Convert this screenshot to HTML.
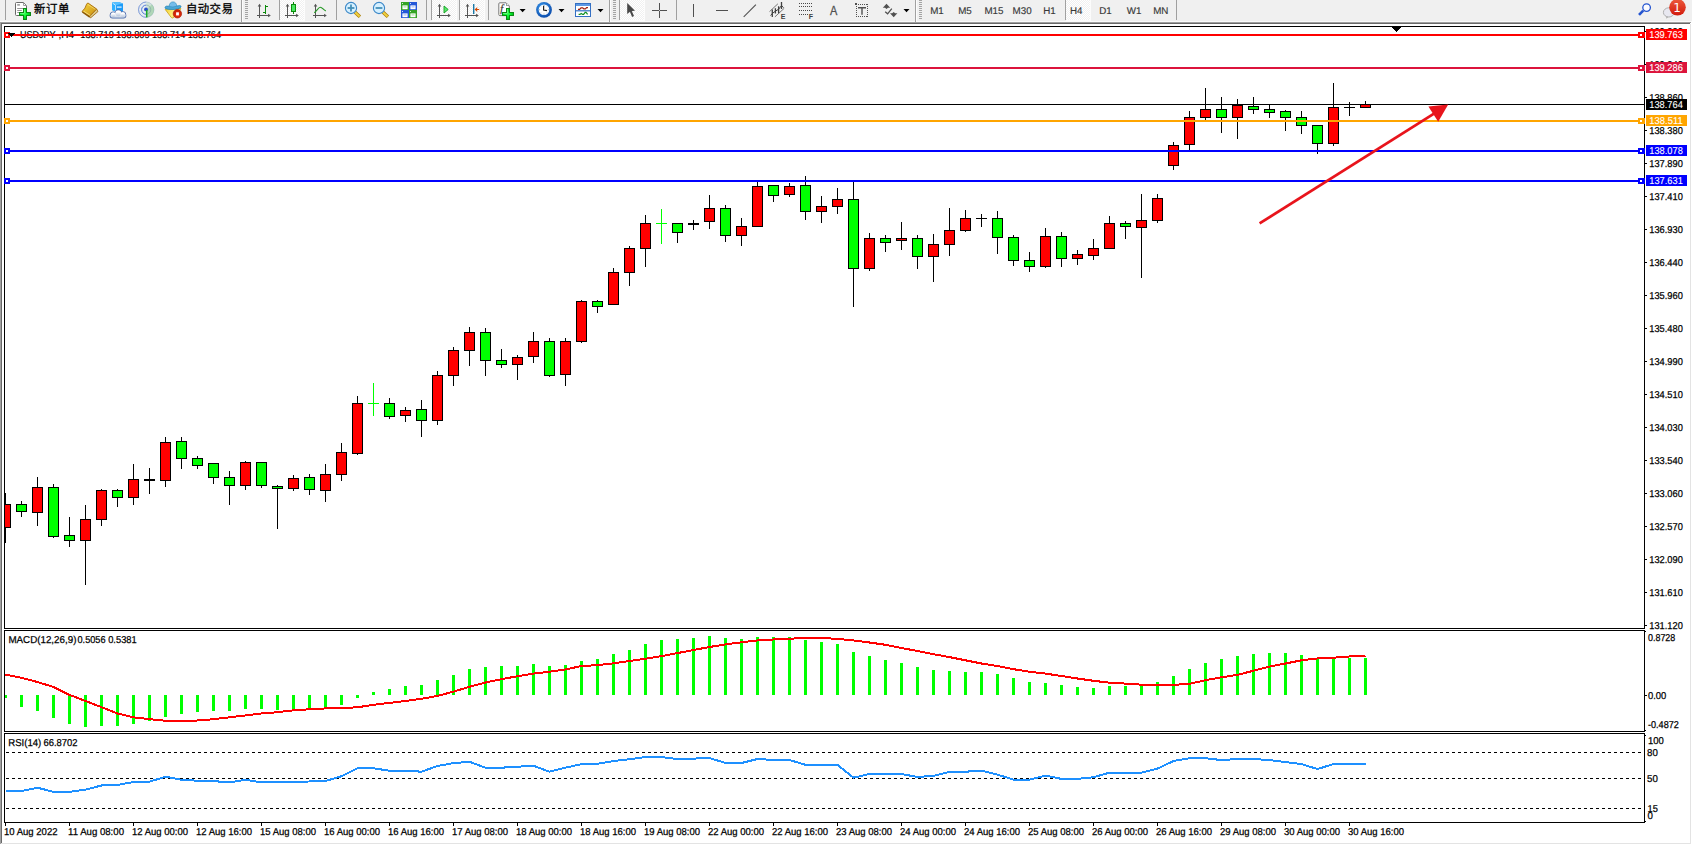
<!DOCTYPE html>
<html lang="zh"><head><meta charset="utf-8"><title>USDJPY,H4</title>
<style>html,body{margin:0;padding:0;background:#fff;overflow:hidden}body{width:1692px;height:845px;position:relative}text{white-space:pre}</style>
</head><body>
<svg width="1692" height="845" viewBox="0 0 1692 845" style="display:block;position:absolute;left:0;top:0">
<defs><pattern id="hatch" width="2" height="2" patternUnits="userSpaceOnUse"><rect width="2" height="2" fill="#f0f0f0"/><rect width="1" height="1" fill="#fff"/><rect x="1" y="1" width="1" height="1" fill="#fff"/></pattern><radialGradient id="gplus" cx="0.45" cy="0.45" r="0.6"><stop offset="0" stop-color="#3cff58"/><stop offset="0.5" stop-color="#08f030"/><stop offset="1" stop-color="#00b818"/></radialGradient><linearGradient id="gbadge" x1="0" y1="0" x2="0" y2="1"><stop offset="0" stop-color="#ec5a3c"/><stop offset="1" stop-color="#d21a0c"/></linearGradient><linearGradient id="ggold" x1="0" y1="0" x2="1" y2="1"><stop offset="0" stop-color="#f8d840"/><stop offset="1" stop-color="#c88c10"/></linearGradient><radialGradient id="gclock" cx="0.4" cy="0.35" r="0.7"><stop offset="0" stop-color="#3a9cf0"/><stop offset="1" stop-color="#0a48a8"/></radialGradient><linearGradient id="gcloud" x1="0" y1="0" x2="0" y2="1"><stop offset="0.3" stop-color="#ffffff"/><stop offset="1" stop-color="#b8c6dc"/></linearGradient><linearGradient id="gface" x1="0" y1="0" x2="1" y2="0.3"><stop offset="0" stop-color="#f4d030"/><stop offset="0.6" stop-color="#fff080"/><stop offset="1" stop-color="#f0c828"/></linearGradient><radialGradient id="gstop" cx="0.55" cy="0.6" r="0.6"><stop offset="0" stop-color="#f43008"/><stop offset="1" stop-color="#c02008"/></radialGradient></defs>
<g shape-rendering="crispEdges">
<rect x="0" y="0" width="1692" height="845" fill="#fff"/>
<rect x="0" y="24" width="1" height="820" fill="#a0a0a0"/>
<rect x="1" y="24" width="1" height="819" fill="#696969"/>
<rect x="1690" y="24" width="1" height="820" fill="#e3e3e3"/>
<rect x="1" y="843" width="1690" height="1" fill="#e3e3e3"/>
<rect x="4" y="26" width="1641" height="1" fill="#000"/>
<rect x="4" y="628" width="1641" height="1" fill="#000"/>
<rect x="4" y="26" width="1" height="603" fill="#000"/>
<rect x="1644" y="26" width="1" height="603" fill="#000"/>
<rect x="4" y="630" width="1641" height="1" fill="#000"/>
<rect x="4" y="731" width="1641" height="1" fill="#000"/>
<rect x="4" y="630" width="1" height="102" fill="#000"/>
<rect x="1644" y="630" width="1" height="102" fill="#000"/>
<rect x="4" y="733" width="1641" height="1" fill="#000"/>
<rect x="4" y="822" width="1641" height="1" fill="#000"/>
<rect x="4" y="733" width="1" height="90" fill="#000"/>
<rect x="1644" y="733" width="1" height="90" fill="#000"/>
</g>
<g font-family="Liberation Sans, sans-serif" font-size="10px" text-rendering="geometricPrecision" fill="#000" stroke="#000" stroke-width="0.2">
<text x="20" y="38.00" textLength="35.5" lengthAdjust="spacingAndGlyphs">USDJPY</text>
<text x="58.6" y="38.00" textLength="15.5" lengthAdjust="spacingAndGlyphs">,H4</text>
<text x="80.3" y="38.00" textLength="33.5" lengthAdjust="spacingAndGlyphs">138.719</text>
<text x="116.1" y="38.00" textLength="33.5" lengthAdjust="spacingAndGlyphs">138.809</text>
<text x="151.89999999999998" y="38.00" textLength="33.5" lengthAdjust="spacingAndGlyphs">138.714</text>
<text x="187.7" y="38.00" textLength="33.5" lengthAdjust="spacingAndGlyphs">138.764</text>
</g>
<g shape-rendering="crispEdges">
<rect x="5" y="493" width="1" height="50" fill="#000"/>
<rect x="0" y="504" width="11" height="24" fill="#000"/>
<rect x="1" y="505" width="9" height="22" fill="#ff0000"/>
<rect x="21" y="501" width="1" height="16" fill="#000"/>
<rect x="16" y="504" width="11" height="8" fill="#000"/>
<rect x="17" y="505" width="9" height="6" fill="#00ff00"/>
<rect x="37" y="477" width="1" height="49" fill="#000"/>
<rect x="32" y="487" width="11" height="26" fill="#000"/>
<rect x="33" y="488" width="9" height="24" fill="#ff0000"/>
<rect x="53" y="484" width="1" height="54" fill="#000"/>
<rect x="48" y="487" width="11" height="50" fill="#000"/>
<rect x="49" y="488" width="9" height="48" fill="#00ff00"/>
<rect x="69" y="517" width="1" height="30" fill="#000"/>
<rect x="64" y="535" width="11" height="6" fill="#000"/>
<rect x="65" y="536" width="9" height="4" fill="#00ff00"/>
<rect x="85" y="505" width="1" height="80" fill="#000"/>
<rect x="80" y="519" width="11" height="22" fill="#000"/>
<rect x="81" y="520" width="9" height="20" fill="#ff0000"/>
<rect x="101" y="489" width="1" height="37" fill="#000"/>
<rect x="96" y="490" width="11" height="30" fill="#000"/>
<rect x="97" y="491" width="9" height="28" fill="#ff0000"/>
<rect x="117" y="489" width="1" height="18" fill="#000"/>
<rect x="112" y="490" width="11" height="8" fill="#000"/>
<rect x="113" y="491" width="9" height="6" fill="#00ff00"/>
<rect x="133" y="464" width="1" height="41" fill="#000"/>
<rect x="128" y="479" width="11" height="19" fill="#000"/>
<rect x="129" y="480" width="9" height="17" fill="#ff0000"/>
<rect x="149" y="468" width="1" height="26" fill="#000"/>
<rect x="144" y="479" width="11" height="2" fill="#000"/>
<rect x="165" y="437" width="1" height="50" fill="#000"/>
<rect x="160" y="442" width="11" height="39" fill="#000"/>
<rect x="161" y="443" width="9" height="37" fill="#ff0000"/>
<rect x="181" y="437" width="1" height="32" fill="#000"/>
<rect x="176" y="441" width="11" height="18" fill="#000"/>
<rect x="177" y="442" width="9" height="16" fill="#00ff00"/>
<rect x="197" y="456" width="1" height="13" fill="#000"/>
<rect x="192" y="458" width="11" height="8" fill="#000"/>
<rect x="193" y="459" width="9" height="6" fill="#00ff00"/>
<rect x="213" y="463" width="1" height="21" fill="#000"/>
<rect x="208" y="463" width="11" height="15" fill="#000"/>
<rect x="209" y="464" width="9" height="13" fill="#00ff00"/>
<rect x="229" y="471" width="1" height="34" fill="#000"/>
<rect x="224" y="477" width="11" height="9" fill="#000"/>
<rect x="225" y="478" width="9" height="7" fill="#00ff00"/>
<rect x="245" y="461" width="1" height="29" fill="#000"/>
<rect x="240" y="462" width="11" height="24" fill="#000"/>
<rect x="241" y="463" width="9" height="22" fill="#ff0000"/>
<rect x="261" y="462" width="1" height="26" fill="#000"/>
<rect x="256" y="462" width="11" height="24" fill="#000"/>
<rect x="257" y="463" width="9" height="22" fill="#00ff00"/>
<rect x="277" y="485" width="1" height="44" fill="#000"/>
<rect x="272" y="486" width="11" height="3" fill="#000"/>
<rect x="273" y="487" width="9" height="1" fill="#00ff00"/>
<rect x="293" y="475" width="1" height="16" fill="#000"/>
<rect x="288" y="478" width="11" height="11" fill="#000"/>
<rect x="289" y="479" width="9" height="9" fill="#ff0000"/>
<rect x="309" y="474" width="1" height="21" fill="#000"/>
<rect x="304" y="477" width="11" height="13" fill="#000"/>
<rect x="305" y="478" width="9" height="11" fill="#00ff00"/>
<rect x="325" y="464" width="1" height="38" fill="#000"/>
<rect x="320" y="474" width="11" height="17" fill="#000"/>
<rect x="321" y="475" width="9" height="15" fill="#ff0000"/>
<rect x="341" y="443" width="1" height="38" fill="#000"/>
<rect x="336" y="452" width="11" height="23" fill="#000"/>
<rect x="337" y="453" width="9" height="21" fill="#ff0000"/>
<rect x="357" y="396" width="1" height="59" fill="#000"/>
<rect x="352" y="403" width="11" height="51" fill="#000"/>
<rect x="353" y="404" width="9" height="49" fill="#ff0000"/>
<rect x="373" y="383" width="1" height="33" fill="#00ff00"/>
<rect x="368" y="403" width="11" height="1" fill="#00ff00"/>
<rect x="389" y="398" width="1" height="21" fill="#000"/>
<rect x="384" y="403" width="11" height="14" fill="#000"/>
<rect x="385" y="404" width="9" height="12" fill="#00ff00"/>
<rect x="405" y="407" width="1" height="15" fill="#000"/>
<rect x="400" y="410" width="11" height="6" fill="#000"/>
<rect x="401" y="411" width="9" height="4" fill="#ff0000"/>
<rect x="421" y="400" width="1" height="37" fill="#000"/>
<rect x="416" y="409" width="11" height="12" fill="#000"/>
<rect x="417" y="410" width="9" height="10" fill="#00ff00"/>
<rect x="437" y="371" width="1" height="54" fill="#000"/>
<rect x="432" y="375" width="11" height="46" fill="#000"/>
<rect x="433" y="376" width="9" height="44" fill="#ff0000"/>
<rect x="453" y="347" width="1" height="39" fill="#000"/>
<rect x="448" y="350" width="11" height="26" fill="#000"/>
<rect x="449" y="351" width="9" height="24" fill="#ff0000"/>
<rect x="469" y="327" width="1" height="39" fill="#000"/>
<rect x="464" y="332" width="11" height="19" fill="#000"/>
<rect x="465" y="333" width="9" height="17" fill="#ff0000"/>
<rect x="485" y="328" width="1" height="48" fill="#000"/>
<rect x="480" y="332" width="11" height="29" fill="#000"/>
<rect x="481" y="333" width="9" height="27" fill="#00ff00"/>
<rect x="501" y="349" width="1" height="19" fill="#000"/>
<rect x="496" y="360" width="11" height="5" fill="#000"/>
<rect x="497" y="361" width="9" height="3" fill="#00ff00"/>
<rect x="517" y="355" width="1" height="25" fill="#000"/>
<rect x="512" y="357" width="11" height="8" fill="#000"/>
<rect x="513" y="358" width="9" height="6" fill="#ff0000"/>
<rect x="533" y="332" width="1" height="31" fill="#000"/>
<rect x="528" y="341" width="11" height="16" fill="#000"/>
<rect x="529" y="342" width="9" height="14" fill="#ff0000"/>
<rect x="549" y="338" width="1" height="39" fill="#000"/>
<rect x="544" y="341" width="11" height="35" fill="#000"/>
<rect x="545" y="342" width="9" height="33" fill="#00ff00"/>
<rect x="565" y="338" width="1" height="48" fill="#000"/>
<rect x="560" y="341" width="11" height="34" fill="#000"/>
<rect x="561" y="342" width="9" height="32" fill="#ff0000"/>
<rect x="581" y="300" width="1" height="43" fill="#000"/>
<rect x="576" y="301" width="11" height="41" fill="#000"/>
<rect x="577" y="302" width="9" height="39" fill="#ff0000"/>
<rect x="597" y="300" width="1" height="13" fill="#000"/>
<rect x="592" y="301" width="11" height="6" fill="#000"/>
<rect x="593" y="302" width="9" height="4" fill="#00ff00"/>
<rect x="613" y="268" width="1" height="37" fill="#000"/>
<rect x="608" y="272" width="11" height="33" fill="#000"/>
<rect x="609" y="273" width="9" height="31" fill="#ff0000"/>
<rect x="629" y="246" width="1" height="40" fill="#000"/>
<rect x="624" y="248" width="11" height="25" fill="#000"/>
<rect x="625" y="249" width="9" height="23" fill="#ff0000"/>
<rect x="645" y="215" width="1" height="52" fill="#000"/>
<rect x="640" y="223" width="11" height="26" fill="#000"/>
<rect x="641" y="224" width="9" height="24" fill="#ff0000"/>
<rect x="661" y="209" width="1" height="35" fill="#00ff00"/>
<rect x="656" y="223" width="11" height="1" fill="#00ff00"/>
<rect x="677" y="223" width="1" height="20" fill="#000"/>
<rect x="672" y="223" width="11" height="10" fill="#000"/>
<rect x="673" y="224" width="9" height="8" fill="#00ff00"/>
<rect x="693" y="220" width="1" height="10" fill="#000"/>
<rect x="688" y="223" width="11" height="2" fill="#000"/>
<rect x="709" y="195" width="1" height="34" fill="#000"/>
<rect x="704" y="208" width="11" height="14" fill="#000"/>
<rect x="705" y="209" width="9" height="12" fill="#ff0000"/>
<rect x="725" y="205" width="1" height="37" fill="#000"/>
<rect x="720" y="208" width="11" height="28" fill="#000"/>
<rect x="721" y="209" width="9" height="26" fill="#00ff00"/>
<rect x="741" y="218" width="1" height="28" fill="#000"/>
<rect x="736" y="226" width="11" height="10" fill="#000"/>
<rect x="737" y="227" width="9" height="8" fill="#ff0000"/>
<rect x="757" y="182" width="1" height="45" fill="#000"/>
<rect x="752" y="186" width="11" height="41" fill="#000"/>
<rect x="753" y="187" width="9" height="39" fill="#ff0000"/>
<rect x="773" y="185" width="1" height="17" fill="#000"/>
<rect x="768" y="185" width="11" height="11" fill="#000"/>
<rect x="769" y="186" width="9" height="9" fill="#00ff00"/>
<rect x="789" y="183" width="1" height="14" fill="#000"/>
<rect x="784" y="186" width="11" height="9" fill="#000"/>
<rect x="785" y="187" width="9" height="7" fill="#ff0000"/>
<rect x="805" y="176" width="1" height="44" fill="#000"/>
<rect x="800" y="185" width="11" height="27" fill="#000"/>
<rect x="801" y="186" width="9" height="25" fill="#00ff00"/>
<rect x="821" y="196" width="1" height="27" fill="#000"/>
<rect x="816" y="206" width="11" height="6" fill="#000"/>
<rect x="817" y="207" width="9" height="4" fill="#ff0000"/>
<rect x="837" y="188" width="1" height="26" fill="#000"/>
<rect x="832" y="199" width="11" height="8" fill="#000"/>
<rect x="833" y="200" width="9" height="6" fill="#ff0000"/>
<rect x="853" y="182" width="1" height="125" fill="#000"/>
<rect x="848" y="199" width="11" height="70" fill="#000"/>
<rect x="849" y="200" width="9" height="68" fill="#00ff00"/>
<rect x="869" y="233" width="1" height="38" fill="#000"/>
<rect x="864" y="238" width="11" height="31" fill="#000"/>
<rect x="865" y="239" width="9" height="29" fill="#ff0000"/>
<rect x="885" y="235" width="1" height="17" fill="#000"/>
<rect x="880" y="238" width="11" height="5" fill="#000"/>
<rect x="881" y="239" width="9" height="3" fill="#00ff00"/>
<rect x="901" y="222" width="1" height="28" fill="#000"/>
<rect x="896" y="238" width="11" height="3" fill="#000"/>
<rect x="897" y="239" width="9" height="1" fill="#ff0000"/>
<rect x="917" y="235" width="1" height="34" fill="#000"/>
<rect x="912" y="238" width="11" height="19" fill="#000"/>
<rect x="913" y="239" width="9" height="17" fill="#00ff00"/>
<rect x="933" y="234" width="1" height="48" fill="#000"/>
<rect x="928" y="244" width="11" height="13" fill="#000"/>
<rect x="929" y="245" width="9" height="11" fill="#ff0000"/>
<rect x="949" y="208" width="1" height="48" fill="#000"/>
<rect x="944" y="230" width="11" height="15" fill="#000"/>
<rect x="945" y="231" width="9" height="13" fill="#ff0000"/>
<rect x="965" y="210" width="1" height="22" fill="#000"/>
<rect x="960" y="218" width="11" height="13" fill="#000"/>
<rect x="961" y="219" width="9" height="11" fill="#ff0000"/>
<rect x="981" y="214" width="1" height="13" fill="#000"/>
<rect x="976" y="218" width="11" height="1" fill="#000"/>
<rect x="997" y="211" width="1" height="43" fill="#000"/>
<rect x="992" y="218" width="11" height="20" fill="#000"/>
<rect x="993" y="219" width="9" height="18" fill="#00ff00"/>
<rect x="1013" y="235" width="1" height="31" fill="#000"/>
<rect x="1008" y="237" width="11" height="24" fill="#000"/>
<rect x="1009" y="238" width="9" height="22" fill="#00ff00"/>
<rect x="1029" y="252" width="1" height="20" fill="#000"/>
<rect x="1024" y="260" width="11" height="7" fill="#000"/>
<rect x="1025" y="261" width="9" height="5" fill="#00ff00"/>
<rect x="1045" y="228" width="1" height="40" fill="#000"/>
<rect x="1040" y="236" width="11" height="31" fill="#000"/>
<rect x="1041" y="237" width="9" height="29" fill="#ff0000"/>
<rect x="1061" y="232" width="1" height="35" fill="#000"/>
<rect x="1056" y="236" width="11" height="23" fill="#000"/>
<rect x="1057" y="237" width="9" height="21" fill="#00ff00"/>
<rect x="1077" y="250" width="1" height="15" fill="#000"/>
<rect x="1072" y="254" width="11" height="5" fill="#000"/>
<rect x="1073" y="255" width="9" height="3" fill="#ff0000"/>
<rect x="1093" y="239" width="1" height="21" fill="#000"/>
<rect x="1088" y="248" width="11" height="8" fill="#000"/>
<rect x="1089" y="249" width="9" height="6" fill="#ff0000"/>
<rect x="1109" y="216" width="1" height="33" fill="#000"/>
<rect x="1104" y="223" width="11" height="26" fill="#000"/>
<rect x="1105" y="224" width="9" height="24" fill="#ff0000"/>
<rect x="1125" y="221" width="1" height="18" fill="#000"/>
<rect x="1120" y="223" width="11" height="4" fill="#000"/>
<rect x="1121" y="224" width="9" height="2" fill="#00ff00"/>
<rect x="1141" y="194" width="1" height="84" fill="#000"/>
<rect x="1136" y="220" width="11" height="8" fill="#000"/>
<rect x="1137" y="221" width="9" height="6" fill="#ff0000"/>
<rect x="1157" y="194" width="1" height="29" fill="#000"/>
<rect x="1152" y="198" width="11" height="23" fill="#000"/>
<rect x="1153" y="199" width="9" height="21" fill="#ff0000"/>
<rect x="1173" y="142" width="1" height="28" fill="#000"/>
<rect x="1168" y="145" width="11" height="21" fill="#000"/>
<rect x="1169" y="146" width="9" height="19" fill="#ff0000"/>
<rect x="1189" y="111" width="1" height="39" fill="#000"/>
<rect x="1184" y="117" width="11" height="28" fill="#000"/>
<rect x="1185" y="118" width="9" height="26" fill="#ff0000"/>
<rect x="1205" y="88" width="1" height="32" fill="#000"/>
<rect x="1200" y="109" width="11" height="9" fill="#000"/>
<rect x="1201" y="110" width="9" height="7" fill="#ff0000"/>
<rect x="1221" y="97" width="1" height="36" fill="#000"/>
<rect x="1216" y="109" width="11" height="9" fill="#000"/>
<rect x="1217" y="110" width="9" height="7" fill="#00ff00"/>
<rect x="1237" y="99" width="1" height="40" fill="#000"/>
<rect x="1232" y="105" width="11" height="13" fill="#000"/>
<rect x="1233" y="106" width="9" height="11" fill="#ff0000"/>
<rect x="1253" y="97" width="1" height="17" fill="#000"/>
<rect x="1248" y="106" width="11" height="4" fill="#000"/>
<rect x="1249" y="107" width="9" height="2" fill="#00ff00"/>
<rect x="1269" y="105" width="1" height="13" fill="#000"/>
<rect x="1264" y="109" width="11" height="4" fill="#000"/>
<rect x="1265" y="110" width="9" height="2" fill="#00ff00"/>
<rect x="1285" y="110" width="1" height="21" fill="#000"/>
<rect x="1280" y="111" width="11" height="7" fill="#000"/>
<rect x="1281" y="112" width="9" height="5" fill="#00ff00"/>
<rect x="1301" y="111" width="1" height="23" fill="#000"/>
<rect x="1296" y="117" width="11" height="9" fill="#000"/>
<rect x="1297" y="118" width="9" height="7" fill="#00ff00"/>
<rect x="1317" y="125" width="1" height="29" fill="#000"/>
<rect x="1312" y="125" width="11" height="19" fill="#000"/>
<rect x="1313" y="126" width="9" height="17" fill="#00ff00"/>
<rect x="1333" y="83" width="1" height="63" fill="#000"/>
<rect x="1328" y="107" width="11" height="37" fill="#000"/>
<rect x="1329" y="108" width="9" height="35" fill="#ff0000"/>
<rect x="1349" y="102" width="1" height="14" fill="#000"/>
<rect x="1344" y="107" width="11" height="1" fill="#000"/>
<rect x="1365" y="101" width="1" height="7" fill="#000"/>
<rect x="1360" y="104" width="11" height="4" fill="#000"/>
<rect x="1361" y="105" width="9" height="2" fill="#ff0000"/>
<rect x="2" y="27" width="2" height="601" fill="#fff"/>
<rect x="0" y="24" width="1" height="820" fill="#a0a0a0"/>
<rect x="1" y="24" width="1" height="819" fill="#696969"/>
<rect x="4" y="26" width="1" height="603" fill="#000"/>
<rect x="5" y="104" width="1640" height="1" fill="#000"/>
<rect x="5" y="34" width="1639" height="2" fill="#ff0000"/>
<rect x="4" y="32" width="6" height="6" fill="#ff0000"/>
<rect x="6" y="34" width="2" height="2" fill="#fff"/>
<rect x="1638" y="32" width="7" height="6" fill="#ff0000"/>
<rect x="1640" y="34" width="2" height="2" fill="#fff"/>
<rect x="5" y="67" width="1639" height="2" fill="#dc143c"/>
<rect x="4" y="65" width="6" height="6" fill="#dc143c"/>
<rect x="6" y="67" width="2" height="2" fill="#fff"/>
<rect x="1638" y="65" width="7" height="6" fill="#dc143c"/>
<rect x="1640" y="67" width="2" height="2" fill="#fff"/>
<rect x="5" y="120" width="1639" height="2" fill="#ffa500"/>
<rect x="4" y="118" width="6" height="6" fill="#ffa500"/>
<rect x="6" y="120" width="2" height="2" fill="#fff"/>
<rect x="1638" y="118" width="7" height="6" fill="#ffa500"/>
<rect x="1640" y="120" width="2" height="2" fill="#fff"/>
<rect x="5" y="150" width="1639" height="2" fill="#0000ff"/>
<rect x="4" y="148" width="6" height="6" fill="#0000ff"/>
<rect x="6" y="150" width="2" height="2" fill="#fff"/>
<rect x="1638" y="148" width="7" height="6" fill="#0000ff"/>
<rect x="1640" y="150" width="2" height="2" fill="#fff"/>
<rect x="5" y="180" width="1639" height="2" fill="#0000ff"/>
<rect x="4" y="178" width="6" height="6" fill="#0000ff"/>
<rect x="6" y="180" width="2" height="2" fill="#fff"/>
<rect x="1638" y="178" width="7" height="6" fill="#0000ff"/>
<rect x="1640" y="180" width="2" height="2" fill="#fff"/>
<rect x="8" y="33" width="7" height="1" fill="#000"/>
<rect x="9" y="34" width="5" height="1" fill="#000"/>
<rect x="10" y="35" width="3" height="1" fill="#000"/>
<rect x="11" y="36" width="1" height="1" fill="#000"/>
<rect x="1392" y="27" width="9" height="1" fill="#000"/>
<rect x="1393" y="28" width="7" height="1" fill="#000"/>
<rect x="1394" y="29" width="5" height="1" fill="#000"/>
<rect x="1395" y="30" width="3" height="1" fill="#000"/>
<rect x="1396" y="31" width="1" height="1" fill="#000"/>
</g>
<g fill="#e8141c" stroke="none"><line x1="1259.6" y1="223.4" x2="1434" y2="113.6" stroke="#e8141c" stroke-width="2.8"/><polygon points="1448.2,104.5 1428.4,106.6 1438.2,121.8"/></g>
<g shape-rendering="crispEdges">
<rect x="1645" y="31" width="2" height="1" fill="#000"/>
<rect x="1645" y="64" width="2" height="1" fill="#000"/>
<rect x="1645" y="97" width="2" height="1" fill="#000"/>
<rect x="1645" y="130" width="2" height="1" fill="#000"/>
<rect x="1645" y="163" width="2" height="1" fill="#000"/>
<rect x="1645" y="196" width="2" height="1" fill="#000"/>
<rect x="1645" y="229" width="2" height="1" fill="#000"/>
<rect x="1645" y="262" width="2" height="1" fill="#000"/>
<rect x="1645" y="295" width="2" height="1" fill="#000"/>
<rect x="1645" y="328" width="2" height="1" fill="#000"/>
<rect x="1645" y="361" width="2" height="1" fill="#000"/>
<rect x="1645" y="394" width="2" height="1" fill="#000"/>
<rect x="1645" y="427" width="2" height="1" fill="#000"/>
<rect x="1645" y="460" width="2" height="1" fill="#000"/>
<rect x="1645" y="493" width="2" height="1" fill="#000"/>
<rect x="1645" y="526" width="2" height="1" fill="#000"/>
<rect x="1645" y="559" width="2" height="1" fill="#000"/>
<rect x="1645" y="592" width="2" height="1" fill="#000"/>
<rect x="1645" y="625" width="2" height="1" fill="#000"/>
</g>
<g font-family="Liberation Sans, sans-serif" font-size="10px" text-rendering="geometricPrecision" fill="#000" stroke="#000" stroke-width="0.25">
<text x="1649.3" y="34.60" textLength="33.5" lengthAdjust="spacingAndGlyphs">139.830</text>
<text x="1649.3" y="67.60" textLength="33.5" lengthAdjust="spacingAndGlyphs">139.340</text>
<text x="1649.3" y="101.00" textLength="33.5" lengthAdjust="spacingAndGlyphs">138.860</text>
<text x="1649.3" y="134.00" textLength="33.5" lengthAdjust="spacingAndGlyphs">138.380</text>
<text x="1649.3" y="167.00" textLength="33.5" lengthAdjust="spacingAndGlyphs">137.890</text>
<text x="1649.3" y="200.00" textLength="33.5" lengthAdjust="spacingAndGlyphs">137.410</text>
<text x="1649.3" y="233.00" textLength="33.5" lengthAdjust="spacingAndGlyphs">136.930</text>
<text x="1649.3" y="266.00" textLength="33.5" lengthAdjust="spacingAndGlyphs">136.440</text>
<text x="1649.3" y="299.00" textLength="33.5" lengthAdjust="spacingAndGlyphs">135.960</text>
<text x="1649.3" y="332.00" textLength="33.5" lengthAdjust="spacingAndGlyphs">135.480</text>
<text x="1649.3" y="365.00" textLength="33.5" lengthAdjust="spacingAndGlyphs">134.990</text>
<text x="1649.3" y="398.00" textLength="33.5" lengthAdjust="spacingAndGlyphs">134.510</text>
<text x="1649.3" y="431.00" textLength="33.5" lengthAdjust="spacingAndGlyphs">134.030</text>
<text x="1649.3" y="464.00" textLength="33.5" lengthAdjust="spacingAndGlyphs">133.540</text>
<text x="1649.3" y="497.00" textLength="33.5" lengthAdjust="spacingAndGlyphs">133.060</text>
<text x="1649.3" y="530.00" textLength="33.5" lengthAdjust="spacingAndGlyphs">132.570</text>
<text x="1649.3" y="563.00" textLength="33.5" lengthAdjust="spacingAndGlyphs">132.090</text>
<text x="1649.3" y="596.00" textLength="33.5" lengthAdjust="spacingAndGlyphs">131.610</text>
<text x="1649.3" y="629.00" textLength="33.5" lengthAdjust="spacingAndGlyphs">131.120</text>
</g>
<g shape-rendering="crispEdges">
<rect x="1646" y="29" width="41" height="11" fill="#ff0000"/>
<rect x="1646" y="62" width="41" height="11" fill="#dc143c"/>
<rect x="1646" y="115" width="41" height="11" fill="#ffa500"/>
<rect x="1646" y="145" width="41" height="11" fill="#0000ff"/>
<rect x="1646" y="175" width="41" height="11" fill="#0000ff"/>
<rect x="1646" y="99" width="41" height="11" fill="#000"/>
</g>
<g font-family="Liberation Sans, sans-serif" font-size="10px" text-rendering="geometricPrecision" fill="#fff" stroke="#fff" stroke-width="0.1">
<text x="1649.3" y="38.00" textLength="33.5" lengthAdjust="spacingAndGlyphs" fill="#fff">139.763</text>
<text x="1649.3" y="71.00" textLength="33.5" lengthAdjust="spacingAndGlyphs" fill="#fff">139.286</text>
<text x="1649.3" y="124.00" textLength="33.5" lengthAdjust="spacingAndGlyphs" fill="#fff">138.511</text>
<text x="1649.3" y="154.00" textLength="33.5" lengthAdjust="spacingAndGlyphs" fill="#fff">138.078</text>
<text x="1649.3" y="184.00" textLength="33.5" lengthAdjust="spacingAndGlyphs" fill="#fff">137.631</text>
<text x="1649.3" y="108.00" textLength="33.5" lengthAdjust="spacingAndGlyphs" fill="#fff">138.764</text>
</g>
<g shape-rendering="crispEdges">
<rect x="4" y="695" width="3" height="3" fill="#00ff00"/>
<rect x="20" y="695" width="3" height="12" fill="#00ff00"/>
<rect x="36" y="695" width="3" height="16" fill="#00ff00"/>
<rect x="52" y="695" width="3" height="23" fill="#00ff00"/>
<rect x="68" y="695" width="3" height="29" fill="#00ff00"/>
<rect x="84" y="695" width="3" height="32" fill="#00ff00"/>
<rect x="100" y="695" width="3" height="31" fill="#00ff00"/>
<rect x="116" y="695" width="3" height="31" fill="#00ff00"/>
<rect x="132" y="695" width="3" height="29" fill="#00ff00"/>
<rect x="148" y="695" width="3" height="26" fill="#00ff00"/>
<rect x="164" y="695" width="3" height="22" fill="#00ff00"/>
<rect x="180" y="695" width="3" height="19" fill="#00ff00"/>
<rect x="196" y="695" width="3" height="17" fill="#00ff00"/>
<rect x="212" y="695" width="3" height="16" fill="#00ff00"/>
<rect x="228" y="695" width="3" height="16" fill="#00ff00"/>
<rect x="244" y="695" width="3" height="14" fill="#00ff00"/>
<rect x="260" y="695" width="3" height="14" fill="#00ff00"/>
<rect x="276" y="695" width="3" height="15" fill="#00ff00"/>
<rect x="292" y="695" width="3" height="14" fill="#00ff00"/>
<rect x="308" y="695" width="3" height="14" fill="#00ff00"/>
<rect x="324" y="695" width="3" height="13" fill="#00ff00"/>
<rect x="340" y="695" width="3" height="10" fill="#00ff00"/>
<rect x="356" y="695" width="3" height="3" fill="#00ff00"/>
<rect x="372" y="692" width="3" height="3" fill="#00ff00"/>
<rect x="388" y="689" width="3" height="6" fill="#00ff00"/>
<rect x="404" y="686" width="3" height="9" fill="#00ff00"/>
<rect x="420" y="685" width="3" height="10" fill="#00ff00"/>
<rect x="436" y="680" width="3" height="15" fill="#00ff00"/>
<rect x="452" y="675" width="3" height="20" fill="#00ff00"/>
<rect x="468" y="669" width="3" height="26" fill="#00ff00"/>
<rect x="484" y="667" width="3" height="28" fill="#00ff00"/>
<rect x="500" y="666" width="3" height="29" fill="#00ff00"/>
<rect x="516" y="666" width="3" height="29" fill="#00ff00"/>
<rect x="532" y="664" width="3" height="31" fill="#00ff00"/>
<rect x="548" y="666" width="3" height="29" fill="#00ff00"/>
<rect x="564" y="665" width="3" height="30" fill="#00ff00"/>
<rect x="580" y="661" width="3" height="34" fill="#00ff00"/>
<rect x="596" y="659" width="3" height="36" fill="#00ff00"/>
<rect x="612" y="654" width="3" height="41" fill="#00ff00"/>
<rect x="628" y="650" width="3" height="45" fill="#00ff00"/>
<rect x="644" y="644" width="3" height="51" fill="#00ff00"/>
<rect x="660" y="640" width="3" height="55" fill="#00ff00"/>
<rect x="676" y="639" width="3" height="56" fill="#00ff00"/>
<rect x="692" y="638" width="3" height="57" fill="#00ff00"/>
<rect x="708" y="636" width="3" height="59" fill="#00ff00"/>
<rect x="724" y="638" width="3" height="57" fill="#00ff00"/>
<rect x="740" y="639" width="3" height="56" fill="#00ff00"/>
<rect x="756" y="637" width="3" height="58" fill="#00ff00"/>
<rect x="772" y="637" width="3" height="58" fill="#00ff00"/>
<rect x="788" y="637" width="3" height="58" fill="#00ff00"/>
<rect x="804" y="640" width="3" height="55" fill="#00ff00"/>
<rect x="820" y="642" width="3" height="53" fill="#00ff00"/>
<rect x="836" y="644" width="3" height="51" fill="#00ff00"/>
<rect x="852" y="652" width="3" height="43" fill="#00ff00"/>
<rect x="868" y="656" width="3" height="39" fill="#00ff00"/>
<rect x="884" y="660" width="3" height="35" fill="#00ff00"/>
<rect x="900" y="663" width="3" height="32" fill="#00ff00"/>
<rect x="916" y="667" width="3" height="28" fill="#00ff00"/>
<rect x="932" y="670" width="3" height="25" fill="#00ff00"/>
<rect x="948" y="671" width="3" height="24" fill="#00ff00"/>
<rect x="964" y="672" width="3" height="23" fill="#00ff00"/>
<rect x="980" y="672" width="3" height="23" fill="#00ff00"/>
<rect x="996" y="674" width="3" height="21" fill="#00ff00"/>
<rect x="1012" y="678" width="3" height="17" fill="#00ff00"/>
<rect x="1028" y="682" width="3" height="13" fill="#00ff00"/>
<rect x="1044" y="683" width="3" height="12" fill="#00ff00"/>
<rect x="1060" y="685" width="3" height="10" fill="#00ff00"/>
<rect x="1076" y="687" width="3" height="8" fill="#00ff00"/>
<rect x="1092" y="688" width="3" height="7" fill="#00ff00"/>
<rect x="1108" y="686" width="3" height="9" fill="#00ff00"/>
<rect x="1124" y="686" width="3" height="9" fill="#00ff00"/>
<rect x="1140" y="684" width="3" height="11" fill="#00ff00"/>
<rect x="1156" y="682" width="3" height="13" fill="#00ff00"/>
<rect x="1172" y="676" width="3" height="19" fill="#00ff00"/>
<rect x="1188" y="669" width="3" height="26" fill="#00ff00"/>
<rect x="1204" y="663" width="3" height="32" fill="#00ff00"/>
<rect x="1220" y="659" width="3" height="36" fill="#00ff00"/>
<rect x="1236" y="656" width="3" height="39" fill="#00ff00"/>
<rect x="1252" y="654" width="3" height="41" fill="#00ff00"/>
<rect x="1268" y="653" width="3" height="42" fill="#00ff00"/>
<rect x="1284" y="653" width="3" height="42" fill="#00ff00"/>
<rect x="1300" y="655" width="3" height="40" fill="#00ff00"/>
<rect x="1316" y="658" width="3" height="37" fill="#00ff00"/>
<rect x="1332" y="658" width="3" height="37" fill="#00ff00"/>
<rect x="1348" y="658" width="3" height="37" fill="#00ff00"/>
<rect x="1364" y="658" width="3" height="37" fill="#00ff00"/>
<rect x="2" y="631" width="2" height="100" fill="#fff"/>
<rect x="4" y="630" width="1" height="102" fill="#000"/>
<rect x="1645" y="695" width="2" height="1" fill="#000"/>
<rect x="1645" y="631" width="1" height="1" fill="#000"/>
<rect x="1645" y="730" width="1" height="1" fill="#000"/>
<rect x="1645" y="735" width="1" height="1" fill="#000"/>
<rect x="1645" y="821" width="1" height="1" fill="#000"/>
<rect x="6" y="752" width="3" height="1" fill="#000"/>
<rect x="12" y="752" width="3" height="1" fill="#000"/>
<rect x="18" y="752" width="3" height="1" fill="#000"/>
<rect x="24" y="752" width="3" height="1" fill="#000"/>
<rect x="30" y="752" width="3" height="1" fill="#000"/>
<rect x="36" y="752" width="3" height="1" fill="#000"/>
<rect x="42" y="752" width="3" height="1" fill="#000"/>
<rect x="48" y="752" width="3" height="1" fill="#000"/>
<rect x="54" y="752" width="3" height="1" fill="#000"/>
<rect x="60" y="752" width="3" height="1" fill="#000"/>
<rect x="66" y="752" width="3" height="1" fill="#000"/>
<rect x="72" y="752" width="3" height="1" fill="#000"/>
<rect x="78" y="752" width="3" height="1" fill="#000"/>
<rect x="84" y="752" width="3" height="1" fill="#000"/>
<rect x="90" y="752" width="3" height="1" fill="#000"/>
<rect x="96" y="752" width="3" height="1" fill="#000"/>
<rect x="102" y="752" width="3" height="1" fill="#000"/>
<rect x="108" y="752" width="3" height="1" fill="#000"/>
<rect x="114" y="752" width="3" height="1" fill="#000"/>
<rect x="120" y="752" width="3" height="1" fill="#000"/>
<rect x="126" y="752" width="3" height="1" fill="#000"/>
<rect x="132" y="752" width="3" height="1" fill="#000"/>
<rect x="138" y="752" width="3" height="1" fill="#000"/>
<rect x="144" y="752" width="3" height="1" fill="#000"/>
<rect x="150" y="752" width="3" height="1" fill="#000"/>
<rect x="156" y="752" width="3" height="1" fill="#000"/>
<rect x="162" y="752" width="3" height="1" fill="#000"/>
<rect x="168" y="752" width="3" height="1" fill="#000"/>
<rect x="174" y="752" width="3" height="1" fill="#000"/>
<rect x="180" y="752" width="3" height="1" fill="#000"/>
<rect x="186" y="752" width="3" height="1" fill="#000"/>
<rect x="192" y="752" width="3" height="1" fill="#000"/>
<rect x="198" y="752" width="3" height="1" fill="#000"/>
<rect x="204" y="752" width="3" height="1" fill="#000"/>
<rect x="210" y="752" width="3" height="1" fill="#000"/>
<rect x="216" y="752" width="3" height="1" fill="#000"/>
<rect x="222" y="752" width="3" height="1" fill="#000"/>
<rect x="228" y="752" width="3" height="1" fill="#000"/>
<rect x="234" y="752" width="3" height="1" fill="#000"/>
<rect x="240" y="752" width="3" height="1" fill="#000"/>
<rect x="246" y="752" width="3" height="1" fill="#000"/>
<rect x="252" y="752" width="3" height="1" fill="#000"/>
<rect x="258" y="752" width="3" height="1" fill="#000"/>
<rect x="264" y="752" width="3" height="1" fill="#000"/>
<rect x="270" y="752" width="3" height="1" fill="#000"/>
<rect x="276" y="752" width="3" height="1" fill="#000"/>
<rect x="282" y="752" width="3" height="1" fill="#000"/>
<rect x="288" y="752" width="3" height="1" fill="#000"/>
<rect x="294" y="752" width="3" height="1" fill="#000"/>
<rect x="300" y="752" width="3" height="1" fill="#000"/>
<rect x="306" y="752" width="3" height="1" fill="#000"/>
<rect x="312" y="752" width="3" height="1" fill="#000"/>
<rect x="318" y="752" width="3" height="1" fill="#000"/>
<rect x="324" y="752" width="3" height="1" fill="#000"/>
<rect x="330" y="752" width="3" height="1" fill="#000"/>
<rect x="336" y="752" width="3" height="1" fill="#000"/>
<rect x="342" y="752" width="3" height="1" fill="#000"/>
<rect x="348" y="752" width="3" height="1" fill="#000"/>
<rect x="354" y="752" width="3" height="1" fill="#000"/>
<rect x="360" y="752" width="3" height="1" fill="#000"/>
<rect x="366" y="752" width="3" height="1" fill="#000"/>
<rect x="372" y="752" width="3" height="1" fill="#000"/>
<rect x="378" y="752" width="3" height="1" fill="#000"/>
<rect x="384" y="752" width="3" height="1" fill="#000"/>
<rect x="390" y="752" width="3" height="1" fill="#000"/>
<rect x="396" y="752" width="3" height="1" fill="#000"/>
<rect x="402" y="752" width="3" height="1" fill="#000"/>
<rect x="408" y="752" width="3" height="1" fill="#000"/>
<rect x="414" y="752" width="3" height="1" fill="#000"/>
<rect x="420" y="752" width="3" height="1" fill="#000"/>
<rect x="426" y="752" width="3" height="1" fill="#000"/>
<rect x="432" y="752" width="3" height="1" fill="#000"/>
<rect x="438" y="752" width="3" height="1" fill="#000"/>
<rect x="444" y="752" width="3" height="1" fill="#000"/>
<rect x="450" y="752" width="3" height="1" fill="#000"/>
<rect x="456" y="752" width="3" height="1" fill="#000"/>
<rect x="462" y="752" width="3" height="1" fill="#000"/>
<rect x="468" y="752" width="3" height="1" fill="#000"/>
<rect x="474" y="752" width="3" height="1" fill="#000"/>
<rect x="480" y="752" width="3" height="1" fill="#000"/>
<rect x="486" y="752" width="3" height="1" fill="#000"/>
<rect x="492" y="752" width="3" height="1" fill="#000"/>
<rect x="498" y="752" width="3" height="1" fill="#000"/>
<rect x="504" y="752" width="3" height="1" fill="#000"/>
<rect x="510" y="752" width="3" height="1" fill="#000"/>
<rect x="516" y="752" width="3" height="1" fill="#000"/>
<rect x="522" y="752" width="3" height="1" fill="#000"/>
<rect x="528" y="752" width="3" height="1" fill="#000"/>
<rect x="534" y="752" width="3" height="1" fill="#000"/>
<rect x="540" y="752" width="3" height="1" fill="#000"/>
<rect x="546" y="752" width="3" height="1" fill="#000"/>
<rect x="552" y="752" width="3" height="1" fill="#000"/>
<rect x="558" y="752" width="3" height="1" fill="#000"/>
<rect x="564" y="752" width="3" height="1" fill="#000"/>
<rect x="570" y="752" width="3" height="1" fill="#000"/>
<rect x="576" y="752" width="3" height="1" fill="#000"/>
<rect x="582" y="752" width="3" height="1" fill="#000"/>
<rect x="588" y="752" width="3" height="1" fill="#000"/>
<rect x="594" y="752" width="3" height="1" fill="#000"/>
<rect x="600" y="752" width="3" height="1" fill="#000"/>
<rect x="606" y="752" width="3" height="1" fill="#000"/>
<rect x="612" y="752" width="3" height="1" fill="#000"/>
<rect x="618" y="752" width="3" height="1" fill="#000"/>
<rect x="624" y="752" width="3" height="1" fill="#000"/>
<rect x="630" y="752" width="3" height="1" fill="#000"/>
<rect x="636" y="752" width="3" height="1" fill="#000"/>
<rect x="642" y="752" width="3" height="1" fill="#000"/>
<rect x="648" y="752" width="3" height="1" fill="#000"/>
<rect x="654" y="752" width="3" height="1" fill="#000"/>
<rect x="660" y="752" width="3" height="1" fill="#000"/>
<rect x="666" y="752" width="3" height="1" fill="#000"/>
<rect x="672" y="752" width="3" height="1" fill="#000"/>
<rect x="678" y="752" width="3" height="1" fill="#000"/>
<rect x="684" y="752" width="3" height="1" fill="#000"/>
<rect x="690" y="752" width="3" height="1" fill="#000"/>
<rect x="696" y="752" width="3" height="1" fill="#000"/>
<rect x="702" y="752" width="3" height="1" fill="#000"/>
<rect x="708" y="752" width="3" height="1" fill="#000"/>
<rect x="714" y="752" width="3" height="1" fill="#000"/>
<rect x="720" y="752" width="3" height="1" fill="#000"/>
<rect x="726" y="752" width="3" height="1" fill="#000"/>
<rect x="732" y="752" width="3" height="1" fill="#000"/>
<rect x="738" y="752" width="3" height="1" fill="#000"/>
<rect x="744" y="752" width="3" height="1" fill="#000"/>
<rect x="750" y="752" width="3" height="1" fill="#000"/>
<rect x="756" y="752" width="3" height="1" fill="#000"/>
<rect x="762" y="752" width="3" height="1" fill="#000"/>
<rect x="768" y="752" width="3" height="1" fill="#000"/>
<rect x="774" y="752" width="3" height="1" fill="#000"/>
<rect x="780" y="752" width="3" height="1" fill="#000"/>
<rect x="786" y="752" width="3" height="1" fill="#000"/>
<rect x="792" y="752" width="3" height="1" fill="#000"/>
<rect x="798" y="752" width="3" height="1" fill="#000"/>
<rect x="804" y="752" width="3" height="1" fill="#000"/>
<rect x="810" y="752" width="3" height="1" fill="#000"/>
<rect x="816" y="752" width="3" height="1" fill="#000"/>
<rect x="822" y="752" width="3" height="1" fill="#000"/>
<rect x="828" y="752" width="3" height="1" fill="#000"/>
<rect x="834" y="752" width="3" height="1" fill="#000"/>
<rect x="840" y="752" width="3" height="1" fill="#000"/>
<rect x="846" y="752" width="3" height="1" fill="#000"/>
<rect x="852" y="752" width="3" height="1" fill="#000"/>
<rect x="858" y="752" width="3" height="1" fill="#000"/>
<rect x="864" y="752" width="3" height="1" fill="#000"/>
<rect x="870" y="752" width="3" height="1" fill="#000"/>
<rect x="876" y="752" width="3" height="1" fill="#000"/>
<rect x="882" y="752" width="3" height="1" fill="#000"/>
<rect x="888" y="752" width="3" height="1" fill="#000"/>
<rect x="894" y="752" width="3" height="1" fill="#000"/>
<rect x="900" y="752" width="3" height="1" fill="#000"/>
<rect x="906" y="752" width="3" height="1" fill="#000"/>
<rect x="912" y="752" width="3" height="1" fill="#000"/>
<rect x="918" y="752" width="3" height="1" fill="#000"/>
<rect x="924" y="752" width="3" height="1" fill="#000"/>
<rect x="930" y="752" width="3" height="1" fill="#000"/>
<rect x="936" y="752" width="3" height="1" fill="#000"/>
<rect x="942" y="752" width="3" height="1" fill="#000"/>
<rect x="948" y="752" width="3" height="1" fill="#000"/>
<rect x="954" y="752" width="3" height="1" fill="#000"/>
<rect x="960" y="752" width="3" height="1" fill="#000"/>
<rect x="966" y="752" width="3" height="1" fill="#000"/>
<rect x="972" y="752" width="3" height="1" fill="#000"/>
<rect x="978" y="752" width="3" height="1" fill="#000"/>
<rect x="984" y="752" width="3" height="1" fill="#000"/>
<rect x="990" y="752" width="3" height="1" fill="#000"/>
<rect x="996" y="752" width="3" height="1" fill="#000"/>
<rect x="1002" y="752" width="3" height="1" fill="#000"/>
<rect x="1008" y="752" width="3" height="1" fill="#000"/>
<rect x="1014" y="752" width="3" height="1" fill="#000"/>
<rect x="1020" y="752" width="3" height="1" fill="#000"/>
<rect x="1026" y="752" width="3" height="1" fill="#000"/>
<rect x="1032" y="752" width="3" height="1" fill="#000"/>
<rect x="1038" y="752" width="3" height="1" fill="#000"/>
<rect x="1044" y="752" width="3" height="1" fill="#000"/>
<rect x="1050" y="752" width="3" height="1" fill="#000"/>
<rect x="1056" y="752" width="3" height="1" fill="#000"/>
<rect x="1062" y="752" width="3" height="1" fill="#000"/>
<rect x="1068" y="752" width="3" height="1" fill="#000"/>
<rect x="1074" y="752" width="3" height="1" fill="#000"/>
<rect x="1080" y="752" width="3" height="1" fill="#000"/>
<rect x="1086" y="752" width="3" height="1" fill="#000"/>
<rect x="1092" y="752" width="3" height="1" fill="#000"/>
<rect x="1098" y="752" width="3" height="1" fill="#000"/>
<rect x="1104" y="752" width="3" height="1" fill="#000"/>
<rect x="1110" y="752" width="3" height="1" fill="#000"/>
<rect x="1116" y="752" width="3" height="1" fill="#000"/>
<rect x="1122" y="752" width="3" height="1" fill="#000"/>
<rect x="1128" y="752" width="3" height="1" fill="#000"/>
<rect x="1134" y="752" width="3" height="1" fill="#000"/>
<rect x="1140" y="752" width="3" height="1" fill="#000"/>
<rect x="1146" y="752" width="3" height="1" fill="#000"/>
<rect x="1152" y="752" width="3" height="1" fill="#000"/>
<rect x="1158" y="752" width="3" height="1" fill="#000"/>
<rect x="1164" y="752" width="3" height="1" fill="#000"/>
<rect x="1170" y="752" width="3" height="1" fill="#000"/>
<rect x="1176" y="752" width="3" height="1" fill="#000"/>
<rect x="1182" y="752" width="3" height="1" fill="#000"/>
<rect x="1188" y="752" width="3" height="1" fill="#000"/>
<rect x="1194" y="752" width="3" height="1" fill="#000"/>
<rect x="1200" y="752" width="3" height="1" fill="#000"/>
<rect x="1206" y="752" width="3" height="1" fill="#000"/>
<rect x="1212" y="752" width="3" height="1" fill="#000"/>
<rect x="1218" y="752" width="3" height="1" fill="#000"/>
<rect x="1224" y="752" width="3" height="1" fill="#000"/>
<rect x="1230" y="752" width="3" height="1" fill="#000"/>
<rect x="1236" y="752" width="3" height="1" fill="#000"/>
<rect x="1242" y="752" width="3" height="1" fill="#000"/>
<rect x="1248" y="752" width="3" height="1" fill="#000"/>
<rect x="1254" y="752" width="3" height="1" fill="#000"/>
<rect x="1260" y="752" width="3" height="1" fill="#000"/>
<rect x="1266" y="752" width="3" height="1" fill="#000"/>
<rect x="1272" y="752" width="3" height="1" fill="#000"/>
<rect x="1278" y="752" width="3" height="1" fill="#000"/>
<rect x="1284" y="752" width="3" height="1" fill="#000"/>
<rect x="1290" y="752" width="3" height="1" fill="#000"/>
<rect x="1296" y="752" width="3" height="1" fill="#000"/>
<rect x="1302" y="752" width="3" height="1" fill="#000"/>
<rect x="1308" y="752" width="3" height="1" fill="#000"/>
<rect x="1314" y="752" width="3" height="1" fill="#000"/>
<rect x="1320" y="752" width="3" height="1" fill="#000"/>
<rect x="1326" y="752" width="3" height="1" fill="#000"/>
<rect x="1332" y="752" width="3" height="1" fill="#000"/>
<rect x="1338" y="752" width="3" height="1" fill="#000"/>
<rect x="1344" y="752" width="3" height="1" fill="#000"/>
<rect x="1350" y="752" width="3" height="1" fill="#000"/>
<rect x="1356" y="752" width="3" height="1" fill="#000"/>
<rect x="1362" y="752" width="3" height="1" fill="#000"/>
<rect x="1368" y="752" width="3" height="1" fill="#000"/>
<rect x="1374" y="752" width="3" height="1" fill="#000"/>
<rect x="1380" y="752" width="3" height="1" fill="#000"/>
<rect x="1386" y="752" width="3" height="1" fill="#000"/>
<rect x="1392" y="752" width="3" height="1" fill="#000"/>
<rect x="1398" y="752" width="3" height="1" fill="#000"/>
<rect x="1404" y="752" width="3" height="1" fill="#000"/>
<rect x="1410" y="752" width="3" height="1" fill="#000"/>
<rect x="1416" y="752" width="3" height="1" fill="#000"/>
<rect x="1422" y="752" width="3" height="1" fill="#000"/>
<rect x="1428" y="752" width="3" height="1" fill="#000"/>
<rect x="1434" y="752" width="3" height="1" fill="#000"/>
<rect x="1440" y="752" width="3" height="1" fill="#000"/>
<rect x="1446" y="752" width="3" height="1" fill="#000"/>
<rect x="1452" y="752" width="3" height="1" fill="#000"/>
<rect x="1458" y="752" width="3" height="1" fill="#000"/>
<rect x="1464" y="752" width="3" height="1" fill="#000"/>
<rect x="1470" y="752" width="3" height="1" fill="#000"/>
<rect x="1476" y="752" width="3" height="1" fill="#000"/>
<rect x="1482" y="752" width="3" height="1" fill="#000"/>
<rect x="1488" y="752" width="3" height="1" fill="#000"/>
<rect x="1494" y="752" width="3" height="1" fill="#000"/>
<rect x="1500" y="752" width="3" height="1" fill="#000"/>
<rect x="1506" y="752" width="3" height="1" fill="#000"/>
<rect x="1512" y="752" width="3" height="1" fill="#000"/>
<rect x="1518" y="752" width="3" height="1" fill="#000"/>
<rect x="1524" y="752" width="3" height="1" fill="#000"/>
<rect x="1530" y="752" width="3" height="1" fill="#000"/>
<rect x="1536" y="752" width="3" height="1" fill="#000"/>
<rect x="1542" y="752" width="3" height="1" fill="#000"/>
<rect x="1548" y="752" width="3" height="1" fill="#000"/>
<rect x="1554" y="752" width="3" height="1" fill="#000"/>
<rect x="1560" y="752" width="3" height="1" fill="#000"/>
<rect x="1566" y="752" width="3" height="1" fill="#000"/>
<rect x="1572" y="752" width="3" height="1" fill="#000"/>
<rect x="1578" y="752" width="3" height="1" fill="#000"/>
<rect x="1584" y="752" width="3" height="1" fill="#000"/>
<rect x="1590" y="752" width="3" height="1" fill="#000"/>
<rect x="1596" y="752" width="3" height="1" fill="#000"/>
<rect x="1602" y="752" width="3" height="1" fill="#000"/>
<rect x="1608" y="752" width="3" height="1" fill="#000"/>
<rect x="1614" y="752" width="3" height="1" fill="#000"/>
<rect x="1620" y="752" width="3" height="1" fill="#000"/>
<rect x="1626" y="752" width="3" height="1" fill="#000"/>
<rect x="1632" y="752" width="3" height="1" fill="#000"/>
<rect x="1638" y="752" width="3" height="1" fill="#000"/>
<rect x="6" y="778" width="3" height="1" fill="#000"/>
<rect x="12" y="778" width="3" height="1" fill="#000"/>
<rect x="18" y="778" width="3" height="1" fill="#000"/>
<rect x="24" y="778" width="3" height="1" fill="#000"/>
<rect x="30" y="778" width="3" height="1" fill="#000"/>
<rect x="36" y="778" width="3" height="1" fill="#000"/>
<rect x="42" y="778" width="3" height="1" fill="#000"/>
<rect x="48" y="778" width="3" height="1" fill="#000"/>
<rect x="54" y="778" width="3" height="1" fill="#000"/>
<rect x="60" y="778" width="3" height="1" fill="#000"/>
<rect x="66" y="778" width="3" height="1" fill="#000"/>
<rect x="72" y="778" width="3" height="1" fill="#000"/>
<rect x="78" y="778" width="3" height="1" fill="#000"/>
<rect x="84" y="778" width="3" height="1" fill="#000"/>
<rect x="90" y="778" width="3" height="1" fill="#000"/>
<rect x="96" y="778" width="3" height="1" fill="#000"/>
<rect x="102" y="778" width="3" height="1" fill="#000"/>
<rect x="108" y="778" width="3" height="1" fill="#000"/>
<rect x="114" y="778" width="3" height="1" fill="#000"/>
<rect x="120" y="778" width="3" height="1" fill="#000"/>
<rect x="126" y="778" width="3" height="1" fill="#000"/>
<rect x="132" y="778" width="3" height="1" fill="#000"/>
<rect x="138" y="778" width="3" height="1" fill="#000"/>
<rect x="144" y="778" width="3" height="1" fill="#000"/>
<rect x="150" y="778" width="3" height="1" fill="#000"/>
<rect x="156" y="778" width="3" height="1" fill="#000"/>
<rect x="162" y="778" width="3" height="1" fill="#000"/>
<rect x="168" y="778" width="3" height="1" fill="#000"/>
<rect x="174" y="778" width="3" height="1" fill="#000"/>
<rect x="180" y="778" width="3" height="1" fill="#000"/>
<rect x="186" y="778" width="3" height="1" fill="#000"/>
<rect x="192" y="778" width="3" height="1" fill="#000"/>
<rect x="198" y="778" width="3" height="1" fill="#000"/>
<rect x="204" y="778" width="3" height="1" fill="#000"/>
<rect x="210" y="778" width="3" height="1" fill="#000"/>
<rect x="216" y="778" width="3" height="1" fill="#000"/>
<rect x="222" y="778" width="3" height="1" fill="#000"/>
<rect x="228" y="778" width="3" height="1" fill="#000"/>
<rect x="234" y="778" width="3" height="1" fill="#000"/>
<rect x="240" y="778" width="3" height="1" fill="#000"/>
<rect x="246" y="778" width="3" height="1" fill="#000"/>
<rect x="252" y="778" width="3" height="1" fill="#000"/>
<rect x="258" y="778" width="3" height="1" fill="#000"/>
<rect x="264" y="778" width="3" height="1" fill="#000"/>
<rect x="270" y="778" width="3" height="1" fill="#000"/>
<rect x="276" y="778" width="3" height="1" fill="#000"/>
<rect x="282" y="778" width="3" height="1" fill="#000"/>
<rect x="288" y="778" width="3" height="1" fill="#000"/>
<rect x="294" y="778" width="3" height="1" fill="#000"/>
<rect x="300" y="778" width="3" height="1" fill="#000"/>
<rect x="306" y="778" width="3" height="1" fill="#000"/>
<rect x="312" y="778" width="3" height="1" fill="#000"/>
<rect x="318" y="778" width="3" height="1" fill="#000"/>
<rect x="324" y="778" width="3" height="1" fill="#000"/>
<rect x="330" y="778" width="3" height="1" fill="#000"/>
<rect x="336" y="778" width="3" height="1" fill="#000"/>
<rect x="342" y="778" width="3" height="1" fill="#000"/>
<rect x="348" y="778" width="3" height="1" fill="#000"/>
<rect x="354" y="778" width="3" height="1" fill="#000"/>
<rect x="360" y="778" width="3" height="1" fill="#000"/>
<rect x="366" y="778" width="3" height="1" fill="#000"/>
<rect x="372" y="778" width="3" height="1" fill="#000"/>
<rect x="378" y="778" width="3" height="1" fill="#000"/>
<rect x="384" y="778" width="3" height="1" fill="#000"/>
<rect x="390" y="778" width="3" height="1" fill="#000"/>
<rect x="396" y="778" width="3" height="1" fill="#000"/>
<rect x="402" y="778" width="3" height="1" fill="#000"/>
<rect x="408" y="778" width="3" height="1" fill="#000"/>
<rect x="414" y="778" width="3" height="1" fill="#000"/>
<rect x="420" y="778" width="3" height="1" fill="#000"/>
<rect x="426" y="778" width="3" height="1" fill="#000"/>
<rect x="432" y="778" width="3" height="1" fill="#000"/>
<rect x="438" y="778" width="3" height="1" fill="#000"/>
<rect x="444" y="778" width="3" height="1" fill="#000"/>
<rect x="450" y="778" width="3" height="1" fill="#000"/>
<rect x="456" y="778" width="3" height="1" fill="#000"/>
<rect x="462" y="778" width="3" height="1" fill="#000"/>
<rect x="468" y="778" width="3" height="1" fill="#000"/>
<rect x="474" y="778" width="3" height="1" fill="#000"/>
<rect x="480" y="778" width="3" height="1" fill="#000"/>
<rect x="486" y="778" width="3" height="1" fill="#000"/>
<rect x="492" y="778" width="3" height="1" fill="#000"/>
<rect x="498" y="778" width="3" height="1" fill="#000"/>
<rect x="504" y="778" width="3" height="1" fill="#000"/>
<rect x="510" y="778" width="3" height="1" fill="#000"/>
<rect x="516" y="778" width="3" height="1" fill="#000"/>
<rect x="522" y="778" width="3" height="1" fill="#000"/>
<rect x="528" y="778" width="3" height="1" fill="#000"/>
<rect x="534" y="778" width="3" height="1" fill="#000"/>
<rect x="540" y="778" width="3" height="1" fill="#000"/>
<rect x="546" y="778" width="3" height="1" fill="#000"/>
<rect x="552" y="778" width="3" height="1" fill="#000"/>
<rect x="558" y="778" width="3" height="1" fill="#000"/>
<rect x="564" y="778" width="3" height="1" fill="#000"/>
<rect x="570" y="778" width="3" height="1" fill="#000"/>
<rect x="576" y="778" width="3" height="1" fill="#000"/>
<rect x="582" y="778" width="3" height="1" fill="#000"/>
<rect x="588" y="778" width="3" height="1" fill="#000"/>
<rect x="594" y="778" width="3" height="1" fill="#000"/>
<rect x="600" y="778" width="3" height="1" fill="#000"/>
<rect x="606" y="778" width="3" height="1" fill="#000"/>
<rect x="612" y="778" width="3" height="1" fill="#000"/>
<rect x="618" y="778" width="3" height="1" fill="#000"/>
<rect x="624" y="778" width="3" height="1" fill="#000"/>
<rect x="630" y="778" width="3" height="1" fill="#000"/>
<rect x="636" y="778" width="3" height="1" fill="#000"/>
<rect x="642" y="778" width="3" height="1" fill="#000"/>
<rect x="648" y="778" width="3" height="1" fill="#000"/>
<rect x="654" y="778" width="3" height="1" fill="#000"/>
<rect x="660" y="778" width="3" height="1" fill="#000"/>
<rect x="666" y="778" width="3" height="1" fill="#000"/>
<rect x="672" y="778" width="3" height="1" fill="#000"/>
<rect x="678" y="778" width="3" height="1" fill="#000"/>
<rect x="684" y="778" width="3" height="1" fill="#000"/>
<rect x="690" y="778" width="3" height="1" fill="#000"/>
<rect x="696" y="778" width="3" height="1" fill="#000"/>
<rect x="702" y="778" width="3" height="1" fill="#000"/>
<rect x="708" y="778" width="3" height="1" fill="#000"/>
<rect x="714" y="778" width="3" height="1" fill="#000"/>
<rect x="720" y="778" width="3" height="1" fill="#000"/>
<rect x="726" y="778" width="3" height="1" fill="#000"/>
<rect x="732" y="778" width="3" height="1" fill="#000"/>
<rect x="738" y="778" width="3" height="1" fill="#000"/>
<rect x="744" y="778" width="3" height="1" fill="#000"/>
<rect x="750" y="778" width="3" height="1" fill="#000"/>
<rect x="756" y="778" width="3" height="1" fill="#000"/>
<rect x="762" y="778" width="3" height="1" fill="#000"/>
<rect x="768" y="778" width="3" height="1" fill="#000"/>
<rect x="774" y="778" width="3" height="1" fill="#000"/>
<rect x="780" y="778" width="3" height="1" fill="#000"/>
<rect x="786" y="778" width="3" height="1" fill="#000"/>
<rect x="792" y="778" width="3" height="1" fill="#000"/>
<rect x="798" y="778" width="3" height="1" fill="#000"/>
<rect x="804" y="778" width="3" height="1" fill="#000"/>
<rect x="810" y="778" width="3" height="1" fill="#000"/>
<rect x="816" y="778" width="3" height="1" fill="#000"/>
<rect x="822" y="778" width="3" height="1" fill="#000"/>
<rect x="828" y="778" width="3" height="1" fill="#000"/>
<rect x="834" y="778" width="3" height="1" fill="#000"/>
<rect x="840" y="778" width="3" height="1" fill="#000"/>
<rect x="846" y="778" width="3" height="1" fill="#000"/>
<rect x="852" y="778" width="3" height="1" fill="#000"/>
<rect x="858" y="778" width="3" height="1" fill="#000"/>
<rect x="864" y="778" width="3" height="1" fill="#000"/>
<rect x="870" y="778" width="3" height="1" fill="#000"/>
<rect x="876" y="778" width="3" height="1" fill="#000"/>
<rect x="882" y="778" width="3" height="1" fill="#000"/>
<rect x="888" y="778" width="3" height="1" fill="#000"/>
<rect x="894" y="778" width="3" height="1" fill="#000"/>
<rect x="900" y="778" width="3" height="1" fill="#000"/>
<rect x="906" y="778" width="3" height="1" fill="#000"/>
<rect x="912" y="778" width="3" height="1" fill="#000"/>
<rect x="918" y="778" width="3" height="1" fill="#000"/>
<rect x="924" y="778" width="3" height="1" fill="#000"/>
<rect x="930" y="778" width="3" height="1" fill="#000"/>
<rect x="936" y="778" width="3" height="1" fill="#000"/>
<rect x="942" y="778" width="3" height="1" fill="#000"/>
<rect x="948" y="778" width="3" height="1" fill="#000"/>
<rect x="954" y="778" width="3" height="1" fill="#000"/>
<rect x="960" y="778" width="3" height="1" fill="#000"/>
<rect x="966" y="778" width="3" height="1" fill="#000"/>
<rect x="972" y="778" width="3" height="1" fill="#000"/>
<rect x="978" y="778" width="3" height="1" fill="#000"/>
<rect x="984" y="778" width="3" height="1" fill="#000"/>
<rect x="990" y="778" width="3" height="1" fill="#000"/>
<rect x="996" y="778" width="3" height="1" fill="#000"/>
<rect x="1002" y="778" width="3" height="1" fill="#000"/>
<rect x="1008" y="778" width="3" height="1" fill="#000"/>
<rect x="1014" y="778" width="3" height="1" fill="#000"/>
<rect x="1020" y="778" width="3" height="1" fill="#000"/>
<rect x="1026" y="778" width="3" height="1" fill="#000"/>
<rect x="1032" y="778" width="3" height="1" fill="#000"/>
<rect x="1038" y="778" width="3" height="1" fill="#000"/>
<rect x="1044" y="778" width="3" height="1" fill="#000"/>
<rect x="1050" y="778" width="3" height="1" fill="#000"/>
<rect x="1056" y="778" width="3" height="1" fill="#000"/>
<rect x="1062" y="778" width="3" height="1" fill="#000"/>
<rect x="1068" y="778" width="3" height="1" fill="#000"/>
<rect x="1074" y="778" width="3" height="1" fill="#000"/>
<rect x="1080" y="778" width="3" height="1" fill="#000"/>
<rect x="1086" y="778" width="3" height="1" fill="#000"/>
<rect x="1092" y="778" width="3" height="1" fill="#000"/>
<rect x="1098" y="778" width="3" height="1" fill="#000"/>
<rect x="1104" y="778" width="3" height="1" fill="#000"/>
<rect x="1110" y="778" width="3" height="1" fill="#000"/>
<rect x="1116" y="778" width="3" height="1" fill="#000"/>
<rect x="1122" y="778" width="3" height="1" fill="#000"/>
<rect x="1128" y="778" width="3" height="1" fill="#000"/>
<rect x="1134" y="778" width="3" height="1" fill="#000"/>
<rect x="1140" y="778" width="3" height="1" fill="#000"/>
<rect x="1146" y="778" width="3" height="1" fill="#000"/>
<rect x="1152" y="778" width="3" height="1" fill="#000"/>
<rect x="1158" y="778" width="3" height="1" fill="#000"/>
<rect x="1164" y="778" width="3" height="1" fill="#000"/>
<rect x="1170" y="778" width="3" height="1" fill="#000"/>
<rect x="1176" y="778" width="3" height="1" fill="#000"/>
<rect x="1182" y="778" width="3" height="1" fill="#000"/>
<rect x="1188" y="778" width="3" height="1" fill="#000"/>
<rect x="1194" y="778" width="3" height="1" fill="#000"/>
<rect x="1200" y="778" width="3" height="1" fill="#000"/>
<rect x="1206" y="778" width="3" height="1" fill="#000"/>
<rect x="1212" y="778" width="3" height="1" fill="#000"/>
<rect x="1218" y="778" width="3" height="1" fill="#000"/>
<rect x="1224" y="778" width="3" height="1" fill="#000"/>
<rect x="1230" y="778" width="3" height="1" fill="#000"/>
<rect x="1236" y="778" width="3" height="1" fill="#000"/>
<rect x="1242" y="778" width="3" height="1" fill="#000"/>
<rect x="1248" y="778" width="3" height="1" fill="#000"/>
<rect x="1254" y="778" width="3" height="1" fill="#000"/>
<rect x="1260" y="778" width="3" height="1" fill="#000"/>
<rect x="1266" y="778" width="3" height="1" fill="#000"/>
<rect x="1272" y="778" width="3" height="1" fill="#000"/>
<rect x="1278" y="778" width="3" height="1" fill="#000"/>
<rect x="1284" y="778" width="3" height="1" fill="#000"/>
<rect x="1290" y="778" width="3" height="1" fill="#000"/>
<rect x="1296" y="778" width="3" height="1" fill="#000"/>
<rect x="1302" y="778" width="3" height="1" fill="#000"/>
<rect x="1308" y="778" width="3" height="1" fill="#000"/>
<rect x="1314" y="778" width="3" height="1" fill="#000"/>
<rect x="1320" y="778" width="3" height="1" fill="#000"/>
<rect x="1326" y="778" width="3" height="1" fill="#000"/>
<rect x="1332" y="778" width="3" height="1" fill="#000"/>
<rect x="1338" y="778" width="3" height="1" fill="#000"/>
<rect x="1344" y="778" width="3" height="1" fill="#000"/>
<rect x="1350" y="778" width="3" height="1" fill="#000"/>
<rect x="1356" y="778" width="3" height="1" fill="#000"/>
<rect x="1362" y="778" width="3" height="1" fill="#000"/>
<rect x="1368" y="778" width="3" height="1" fill="#000"/>
<rect x="1374" y="778" width="3" height="1" fill="#000"/>
<rect x="1380" y="778" width="3" height="1" fill="#000"/>
<rect x="1386" y="778" width="3" height="1" fill="#000"/>
<rect x="1392" y="778" width="3" height="1" fill="#000"/>
<rect x="1398" y="778" width="3" height="1" fill="#000"/>
<rect x="1404" y="778" width="3" height="1" fill="#000"/>
<rect x="1410" y="778" width="3" height="1" fill="#000"/>
<rect x="1416" y="778" width="3" height="1" fill="#000"/>
<rect x="1422" y="778" width="3" height="1" fill="#000"/>
<rect x="1428" y="778" width="3" height="1" fill="#000"/>
<rect x="1434" y="778" width="3" height="1" fill="#000"/>
<rect x="1440" y="778" width="3" height="1" fill="#000"/>
<rect x="1446" y="778" width="3" height="1" fill="#000"/>
<rect x="1452" y="778" width="3" height="1" fill="#000"/>
<rect x="1458" y="778" width="3" height="1" fill="#000"/>
<rect x="1464" y="778" width="3" height="1" fill="#000"/>
<rect x="1470" y="778" width="3" height="1" fill="#000"/>
<rect x="1476" y="778" width="3" height="1" fill="#000"/>
<rect x="1482" y="778" width="3" height="1" fill="#000"/>
<rect x="1488" y="778" width="3" height="1" fill="#000"/>
<rect x="1494" y="778" width="3" height="1" fill="#000"/>
<rect x="1500" y="778" width="3" height="1" fill="#000"/>
<rect x="1506" y="778" width="3" height="1" fill="#000"/>
<rect x="1512" y="778" width="3" height="1" fill="#000"/>
<rect x="1518" y="778" width="3" height="1" fill="#000"/>
<rect x="1524" y="778" width="3" height="1" fill="#000"/>
<rect x="1530" y="778" width="3" height="1" fill="#000"/>
<rect x="1536" y="778" width="3" height="1" fill="#000"/>
<rect x="1542" y="778" width="3" height="1" fill="#000"/>
<rect x="1548" y="778" width="3" height="1" fill="#000"/>
<rect x="1554" y="778" width="3" height="1" fill="#000"/>
<rect x="1560" y="778" width="3" height="1" fill="#000"/>
<rect x="1566" y="778" width="3" height="1" fill="#000"/>
<rect x="1572" y="778" width="3" height="1" fill="#000"/>
<rect x="1578" y="778" width="3" height="1" fill="#000"/>
<rect x="1584" y="778" width="3" height="1" fill="#000"/>
<rect x="1590" y="778" width="3" height="1" fill="#000"/>
<rect x="1596" y="778" width="3" height="1" fill="#000"/>
<rect x="1602" y="778" width="3" height="1" fill="#000"/>
<rect x="1608" y="778" width="3" height="1" fill="#000"/>
<rect x="1614" y="778" width="3" height="1" fill="#000"/>
<rect x="1620" y="778" width="3" height="1" fill="#000"/>
<rect x="1626" y="778" width="3" height="1" fill="#000"/>
<rect x="1632" y="778" width="3" height="1" fill="#000"/>
<rect x="1638" y="778" width="3" height="1" fill="#000"/>
<rect x="6" y="808" width="3" height="1" fill="#000"/>
<rect x="12" y="808" width="3" height="1" fill="#000"/>
<rect x="18" y="808" width="3" height="1" fill="#000"/>
<rect x="24" y="808" width="3" height="1" fill="#000"/>
<rect x="30" y="808" width="3" height="1" fill="#000"/>
<rect x="36" y="808" width="3" height="1" fill="#000"/>
<rect x="42" y="808" width="3" height="1" fill="#000"/>
<rect x="48" y="808" width="3" height="1" fill="#000"/>
<rect x="54" y="808" width="3" height="1" fill="#000"/>
<rect x="60" y="808" width="3" height="1" fill="#000"/>
<rect x="66" y="808" width="3" height="1" fill="#000"/>
<rect x="72" y="808" width="3" height="1" fill="#000"/>
<rect x="78" y="808" width="3" height="1" fill="#000"/>
<rect x="84" y="808" width="3" height="1" fill="#000"/>
<rect x="90" y="808" width="3" height="1" fill="#000"/>
<rect x="96" y="808" width="3" height="1" fill="#000"/>
<rect x="102" y="808" width="3" height="1" fill="#000"/>
<rect x="108" y="808" width="3" height="1" fill="#000"/>
<rect x="114" y="808" width="3" height="1" fill="#000"/>
<rect x="120" y="808" width="3" height="1" fill="#000"/>
<rect x="126" y="808" width="3" height="1" fill="#000"/>
<rect x="132" y="808" width="3" height="1" fill="#000"/>
<rect x="138" y="808" width="3" height="1" fill="#000"/>
<rect x="144" y="808" width="3" height="1" fill="#000"/>
<rect x="150" y="808" width="3" height="1" fill="#000"/>
<rect x="156" y="808" width="3" height="1" fill="#000"/>
<rect x="162" y="808" width="3" height="1" fill="#000"/>
<rect x="168" y="808" width="3" height="1" fill="#000"/>
<rect x="174" y="808" width="3" height="1" fill="#000"/>
<rect x="180" y="808" width="3" height="1" fill="#000"/>
<rect x="186" y="808" width="3" height="1" fill="#000"/>
<rect x="192" y="808" width="3" height="1" fill="#000"/>
<rect x="198" y="808" width="3" height="1" fill="#000"/>
<rect x="204" y="808" width="3" height="1" fill="#000"/>
<rect x="210" y="808" width="3" height="1" fill="#000"/>
<rect x="216" y="808" width="3" height="1" fill="#000"/>
<rect x="222" y="808" width="3" height="1" fill="#000"/>
<rect x="228" y="808" width="3" height="1" fill="#000"/>
<rect x="234" y="808" width="3" height="1" fill="#000"/>
<rect x="240" y="808" width="3" height="1" fill="#000"/>
<rect x="246" y="808" width="3" height="1" fill="#000"/>
<rect x="252" y="808" width="3" height="1" fill="#000"/>
<rect x="258" y="808" width="3" height="1" fill="#000"/>
<rect x="264" y="808" width="3" height="1" fill="#000"/>
<rect x="270" y="808" width="3" height="1" fill="#000"/>
<rect x="276" y="808" width="3" height="1" fill="#000"/>
<rect x="282" y="808" width="3" height="1" fill="#000"/>
<rect x="288" y="808" width="3" height="1" fill="#000"/>
<rect x="294" y="808" width="3" height="1" fill="#000"/>
<rect x="300" y="808" width="3" height="1" fill="#000"/>
<rect x="306" y="808" width="3" height="1" fill="#000"/>
<rect x="312" y="808" width="3" height="1" fill="#000"/>
<rect x="318" y="808" width="3" height="1" fill="#000"/>
<rect x="324" y="808" width="3" height="1" fill="#000"/>
<rect x="330" y="808" width="3" height="1" fill="#000"/>
<rect x="336" y="808" width="3" height="1" fill="#000"/>
<rect x="342" y="808" width="3" height="1" fill="#000"/>
<rect x="348" y="808" width="3" height="1" fill="#000"/>
<rect x="354" y="808" width="3" height="1" fill="#000"/>
<rect x="360" y="808" width="3" height="1" fill="#000"/>
<rect x="366" y="808" width="3" height="1" fill="#000"/>
<rect x="372" y="808" width="3" height="1" fill="#000"/>
<rect x="378" y="808" width="3" height="1" fill="#000"/>
<rect x="384" y="808" width="3" height="1" fill="#000"/>
<rect x="390" y="808" width="3" height="1" fill="#000"/>
<rect x="396" y="808" width="3" height="1" fill="#000"/>
<rect x="402" y="808" width="3" height="1" fill="#000"/>
<rect x="408" y="808" width="3" height="1" fill="#000"/>
<rect x="414" y="808" width="3" height="1" fill="#000"/>
<rect x="420" y="808" width="3" height="1" fill="#000"/>
<rect x="426" y="808" width="3" height="1" fill="#000"/>
<rect x="432" y="808" width="3" height="1" fill="#000"/>
<rect x="438" y="808" width="3" height="1" fill="#000"/>
<rect x="444" y="808" width="3" height="1" fill="#000"/>
<rect x="450" y="808" width="3" height="1" fill="#000"/>
<rect x="456" y="808" width="3" height="1" fill="#000"/>
<rect x="462" y="808" width="3" height="1" fill="#000"/>
<rect x="468" y="808" width="3" height="1" fill="#000"/>
<rect x="474" y="808" width="3" height="1" fill="#000"/>
<rect x="480" y="808" width="3" height="1" fill="#000"/>
<rect x="486" y="808" width="3" height="1" fill="#000"/>
<rect x="492" y="808" width="3" height="1" fill="#000"/>
<rect x="498" y="808" width="3" height="1" fill="#000"/>
<rect x="504" y="808" width="3" height="1" fill="#000"/>
<rect x="510" y="808" width="3" height="1" fill="#000"/>
<rect x="516" y="808" width="3" height="1" fill="#000"/>
<rect x="522" y="808" width="3" height="1" fill="#000"/>
<rect x="528" y="808" width="3" height="1" fill="#000"/>
<rect x="534" y="808" width="3" height="1" fill="#000"/>
<rect x="540" y="808" width="3" height="1" fill="#000"/>
<rect x="546" y="808" width="3" height="1" fill="#000"/>
<rect x="552" y="808" width="3" height="1" fill="#000"/>
<rect x="558" y="808" width="3" height="1" fill="#000"/>
<rect x="564" y="808" width="3" height="1" fill="#000"/>
<rect x="570" y="808" width="3" height="1" fill="#000"/>
<rect x="576" y="808" width="3" height="1" fill="#000"/>
<rect x="582" y="808" width="3" height="1" fill="#000"/>
<rect x="588" y="808" width="3" height="1" fill="#000"/>
<rect x="594" y="808" width="3" height="1" fill="#000"/>
<rect x="600" y="808" width="3" height="1" fill="#000"/>
<rect x="606" y="808" width="3" height="1" fill="#000"/>
<rect x="612" y="808" width="3" height="1" fill="#000"/>
<rect x="618" y="808" width="3" height="1" fill="#000"/>
<rect x="624" y="808" width="3" height="1" fill="#000"/>
<rect x="630" y="808" width="3" height="1" fill="#000"/>
<rect x="636" y="808" width="3" height="1" fill="#000"/>
<rect x="642" y="808" width="3" height="1" fill="#000"/>
<rect x="648" y="808" width="3" height="1" fill="#000"/>
<rect x="654" y="808" width="3" height="1" fill="#000"/>
<rect x="660" y="808" width="3" height="1" fill="#000"/>
<rect x="666" y="808" width="3" height="1" fill="#000"/>
<rect x="672" y="808" width="3" height="1" fill="#000"/>
<rect x="678" y="808" width="3" height="1" fill="#000"/>
<rect x="684" y="808" width="3" height="1" fill="#000"/>
<rect x="690" y="808" width="3" height="1" fill="#000"/>
<rect x="696" y="808" width="3" height="1" fill="#000"/>
<rect x="702" y="808" width="3" height="1" fill="#000"/>
<rect x="708" y="808" width="3" height="1" fill="#000"/>
<rect x="714" y="808" width="3" height="1" fill="#000"/>
<rect x="720" y="808" width="3" height="1" fill="#000"/>
<rect x="726" y="808" width="3" height="1" fill="#000"/>
<rect x="732" y="808" width="3" height="1" fill="#000"/>
<rect x="738" y="808" width="3" height="1" fill="#000"/>
<rect x="744" y="808" width="3" height="1" fill="#000"/>
<rect x="750" y="808" width="3" height="1" fill="#000"/>
<rect x="756" y="808" width="3" height="1" fill="#000"/>
<rect x="762" y="808" width="3" height="1" fill="#000"/>
<rect x="768" y="808" width="3" height="1" fill="#000"/>
<rect x="774" y="808" width="3" height="1" fill="#000"/>
<rect x="780" y="808" width="3" height="1" fill="#000"/>
<rect x="786" y="808" width="3" height="1" fill="#000"/>
<rect x="792" y="808" width="3" height="1" fill="#000"/>
<rect x="798" y="808" width="3" height="1" fill="#000"/>
<rect x="804" y="808" width="3" height="1" fill="#000"/>
<rect x="810" y="808" width="3" height="1" fill="#000"/>
<rect x="816" y="808" width="3" height="1" fill="#000"/>
<rect x="822" y="808" width="3" height="1" fill="#000"/>
<rect x="828" y="808" width="3" height="1" fill="#000"/>
<rect x="834" y="808" width="3" height="1" fill="#000"/>
<rect x="840" y="808" width="3" height="1" fill="#000"/>
<rect x="846" y="808" width="3" height="1" fill="#000"/>
<rect x="852" y="808" width="3" height="1" fill="#000"/>
<rect x="858" y="808" width="3" height="1" fill="#000"/>
<rect x="864" y="808" width="3" height="1" fill="#000"/>
<rect x="870" y="808" width="3" height="1" fill="#000"/>
<rect x="876" y="808" width="3" height="1" fill="#000"/>
<rect x="882" y="808" width="3" height="1" fill="#000"/>
<rect x="888" y="808" width="3" height="1" fill="#000"/>
<rect x="894" y="808" width="3" height="1" fill="#000"/>
<rect x="900" y="808" width="3" height="1" fill="#000"/>
<rect x="906" y="808" width="3" height="1" fill="#000"/>
<rect x="912" y="808" width="3" height="1" fill="#000"/>
<rect x="918" y="808" width="3" height="1" fill="#000"/>
<rect x="924" y="808" width="3" height="1" fill="#000"/>
<rect x="930" y="808" width="3" height="1" fill="#000"/>
<rect x="936" y="808" width="3" height="1" fill="#000"/>
<rect x="942" y="808" width="3" height="1" fill="#000"/>
<rect x="948" y="808" width="3" height="1" fill="#000"/>
<rect x="954" y="808" width="3" height="1" fill="#000"/>
<rect x="960" y="808" width="3" height="1" fill="#000"/>
<rect x="966" y="808" width="3" height="1" fill="#000"/>
<rect x="972" y="808" width="3" height="1" fill="#000"/>
<rect x="978" y="808" width="3" height="1" fill="#000"/>
<rect x="984" y="808" width="3" height="1" fill="#000"/>
<rect x="990" y="808" width="3" height="1" fill="#000"/>
<rect x="996" y="808" width="3" height="1" fill="#000"/>
<rect x="1002" y="808" width="3" height="1" fill="#000"/>
<rect x="1008" y="808" width="3" height="1" fill="#000"/>
<rect x="1014" y="808" width="3" height="1" fill="#000"/>
<rect x="1020" y="808" width="3" height="1" fill="#000"/>
<rect x="1026" y="808" width="3" height="1" fill="#000"/>
<rect x="1032" y="808" width="3" height="1" fill="#000"/>
<rect x="1038" y="808" width="3" height="1" fill="#000"/>
<rect x="1044" y="808" width="3" height="1" fill="#000"/>
<rect x="1050" y="808" width="3" height="1" fill="#000"/>
<rect x="1056" y="808" width="3" height="1" fill="#000"/>
<rect x="1062" y="808" width="3" height="1" fill="#000"/>
<rect x="1068" y="808" width="3" height="1" fill="#000"/>
<rect x="1074" y="808" width="3" height="1" fill="#000"/>
<rect x="1080" y="808" width="3" height="1" fill="#000"/>
<rect x="1086" y="808" width="3" height="1" fill="#000"/>
<rect x="1092" y="808" width="3" height="1" fill="#000"/>
<rect x="1098" y="808" width="3" height="1" fill="#000"/>
<rect x="1104" y="808" width="3" height="1" fill="#000"/>
<rect x="1110" y="808" width="3" height="1" fill="#000"/>
<rect x="1116" y="808" width="3" height="1" fill="#000"/>
<rect x="1122" y="808" width="3" height="1" fill="#000"/>
<rect x="1128" y="808" width="3" height="1" fill="#000"/>
<rect x="1134" y="808" width="3" height="1" fill="#000"/>
<rect x="1140" y="808" width="3" height="1" fill="#000"/>
<rect x="1146" y="808" width="3" height="1" fill="#000"/>
<rect x="1152" y="808" width="3" height="1" fill="#000"/>
<rect x="1158" y="808" width="3" height="1" fill="#000"/>
<rect x="1164" y="808" width="3" height="1" fill="#000"/>
<rect x="1170" y="808" width="3" height="1" fill="#000"/>
<rect x="1176" y="808" width="3" height="1" fill="#000"/>
<rect x="1182" y="808" width="3" height="1" fill="#000"/>
<rect x="1188" y="808" width="3" height="1" fill="#000"/>
<rect x="1194" y="808" width="3" height="1" fill="#000"/>
<rect x="1200" y="808" width="3" height="1" fill="#000"/>
<rect x="1206" y="808" width="3" height="1" fill="#000"/>
<rect x="1212" y="808" width="3" height="1" fill="#000"/>
<rect x="1218" y="808" width="3" height="1" fill="#000"/>
<rect x="1224" y="808" width="3" height="1" fill="#000"/>
<rect x="1230" y="808" width="3" height="1" fill="#000"/>
<rect x="1236" y="808" width="3" height="1" fill="#000"/>
<rect x="1242" y="808" width="3" height="1" fill="#000"/>
<rect x="1248" y="808" width="3" height="1" fill="#000"/>
<rect x="1254" y="808" width="3" height="1" fill="#000"/>
<rect x="1260" y="808" width="3" height="1" fill="#000"/>
<rect x="1266" y="808" width="3" height="1" fill="#000"/>
<rect x="1272" y="808" width="3" height="1" fill="#000"/>
<rect x="1278" y="808" width="3" height="1" fill="#000"/>
<rect x="1284" y="808" width="3" height="1" fill="#000"/>
<rect x="1290" y="808" width="3" height="1" fill="#000"/>
<rect x="1296" y="808" width="3" height="1" fill="#000"/>
<rect x="1302" y="808" width="3" height="1" fill="#000"/>
<rect x="1308" y="808" width="3" height="1" fill="#000"/>
<rect x="1314" y="808" width="3" height="1" fill="#000"/>
<rect x="1320" y="808" width="3" height="1" fill="#000"/>
<rect x="1326" y="808" width="3" height="1" fill="#000"/>
<rect x="1332" y="808" width="3" height="1" fill="#000"/>
<rect x="1338" y="808" width="3" height="1" fill="#000"/>
<rect x="1344" y="808" width="3" height="1" fill="#000"/>
<rect x="1350" y="808" width="3" height="1" fill="#000"/>
<rect x="1356" y="808" width="3" height="1" fill="#000"/>
<rect x="1362" y="808" width="3" height="1" fill="#000"/>
<rect x="1368" y="808" width="3" height="1" fill="#000"/>
<rect x="1374" y="808" width="3" height="1" fill="#000"/>
<rect x="1380" y="808" width="3" height="1" fill="#000"/>
<rect x="1386" y="808" width="3" height="1" fill="#000"/>
<rect x="1392" y="808" width="3" height="1" fill="#000"/>
<rect x="1398" y="808" width="3" height="1" fill="#000"/>
<rect x="1404" y="808" width="3" height="1" fill="#000"/>
<rect x="1410" y="808" width="3" height="1" fill="#000"/>
<rect x="1416" y="808" width="3" height="1" fill="#000"/>
<rect x="1422" y="808" width="3" height="1" fill="#000"/>
<rect x="1428" y="808" width="3" height="1" fill="#000"/>
<rect x="1434" y="808" width="3" height="1" fill="#000"/>
<rect x="1440" y="808" width="3" height="1" fill="#000"/>
<rect x="1446" y="808" width="3" height="1" fill="#000"/>
<rect x="1452" y="808" width="3" height="1" fill="#000"/>
<rect x="1458" y="808" width="3" height="1" fill="#000"/>
<rect x="1464" y="808" width="3" height="1" fill="#000"/>
<rect x="1470" y="808" width="3" height="1" fill="#000"/>
<rect x="1476" y="808" width="3" height="1" fill="#000"/>
<rect x="1482" y="808" width="3" height="1" fill="#000"/>
<rect x="1488" y="808" width="3" height="1" fill="#000"/>
<rect x="1494" y="808" width="3" height="1" fill="#000"/>
<rect x="1500" y="808" width="3" height="1" fill="#000"/>
<rect x="1506" y="808" width="3" height="1" fill="#000"/>
<rect x="1512" y="808" width="3" height="1" fill="#000"/>
<rect x="1518" y="808" width="3" height="1" fill="#000"/>
<rect x="1524" y="808" width="3" height="1" fill="#000"/>
<rect x="1530" y="808" width="3" height="1" fill="#000"/>
<rect x="1536" y="808" width="3" height="1" fill="#000"/>
<rect x="1542" y="808" width="3" height="1" fill="#000"/>
<rect x="1548" y="808" width="3" height="1" fill="#000"/>
<rect x="1554" y="808" width="3" height="1" fill="#000"/>
<rect x="1560" y="808" width="3" height="1" fill="#000"/>
<rect x="1566" y="808" width="3" height="1" fill="#000"/>
<rect x="1572" y="808" width="3" height="1" fill="#000"/>
<rect x="1578" y="808" width="3" height="1" fill="#000"/>
<rect x="1584" y="808" width="3" height="1" fill="#000"/>
<rect x="1590" y="808" width="3" height="1" fill="#000"/>
<rect x="1596" y="808" width="3" height="1" fill="#000"/>
<rect x="1602" y="808" width="3" height="1" fill="#000"/>
<rect x="1608" y="808" width="3" height="1" fill="#000"/>
<rect x="1614" y="808" width="3" height="1" fill="#000"/>
<rect x="1620" y="808" width="3" height="1" fill="#000"/>
<rect x="1626" y="808" width="3" height="1" fill="#000"/>
<rect x="1632" y="808" width="3" height="1" fill="#000"/>
<rect x="1638" y="808" width="3" height="1" fill="#000"/>
</g>
<polyline points="5.5,674.5 21.5,677.9 37.5,682.0 53.5,687.0 69.5,694.9 85.5,701.0 101.5,707.2 117.5,713.5 133.5,717.3 149.5,719.2 165.5,720.7 181.5,720.9 197.5,720.5 213.5,719.2 229.5,717.3 245.5,715.4 261.5,713.5 277.5,712.2 293.5,710.3 309.5,709.3 325.5,708.4 341.5,708.0 357.5,707.3 373.5,704.8 389.5,702.9 405.5,701.0 421.5,698.8 437.5,695.9 453.5,691.6 469.5,686.8 485.5,682.5 501.5,679.2 517.5,676.2 533.5,673.6 549.5,671.7 565.5,669.4 581.5,666.0 597.5,665.2 613.5,663.3 629.5,661.0 645.5,658.8 661.5,656.1 677.5,653.1 693.5,650.0 709.5,647.0 725.5,644.4 741.5,642.3 757.5,640.4 773.5,639.5 789.5,638.7 805.5,638.0 821.5,638.0 837.5,638.9 853.5,640.4 869.5,642.5 885.5,644.8 901.5,648.0 917.5,651.0 933.5,654.2 949.5,657.1 965.5,660.3 981.5,663.5 997.5,666.0 1013.5,669.2 1029.5,671.7 1045.5,673.6 1061.5,676.0 1077.5,678.5 1093.5,680.8 1109.5,682.7 1125.5,683.6 1141.5,684.7 1157.5,684.9 1173.5,684.9 1189.5,683.8 1205.5,680.2 1221.5,677.3 1237.5,674.9 1253.5,670.7 1269.5,666.6 1285.5,663.5 1301.5,660.3 1317.5,658.4 1333.5,657.7 1349.5,656.5 1365.5,655.8" fill="none" stroke="#ff0000" stroke-width="2" stroke-linejoin="round" shape-rendering="crispEdges"/>
<polyline points="5.5,791.0 21.5,791.0 37.5,787.7 53.5,791.9 69.5,791.9 85.5,789.6 101.5,785.5 117.5,784.9 133.5,782.0 149.5,781.7 165.5,776.7 181.5,779.8 197.5,780.7 213.5,781.1 229.5,782.4 245.5,779.8 261.5,782.4 277.5,782.4 293.5,781.7 309.5,781.5 325.5,781.0 341.5,776.2 357.5,768.3 373.5,768.3 389.5,770.7 405.5,770.7 421.5,771.7 437.5,766.0 453.5,763.1 469.5,761.8 485.5,767.7 501.5,767.7 517.5,766.7 533.5,765.8 549.5,771.7 565.5,767.7 581.5,764.1 597.5,763.7 613.5,761.1 629.5,759.2 645.5,757.1 661.5,757.1 677.5,759.0 693.5,758.6 709.5,758.0 725.5,763.0 741.5,763.0 757.5,759.0 773.5,760.0 789.5,760.0 805.5,764.8 821.5,764.8 837.5,764.8 853.5,777.7 869.5,774.0 885.5,774.0 901.5,774.0 917.5,777.0 933.5,775.8 949.5,772.0 965.5,771.7 981.5,770.7 997.5,774.7 1013.5,779.6 1029.5,779.6 1045.5,775.6 1061.5,778.9 1077.5,778.9 1093.5,777.3 1109.5,772.6 1125.5,772.6 1141.5,772.6 1157.5,768.6 1173.5,761.0 1189.5,758.2 1205.5,758.2 1221.5,760.1 1237.5,759.0 1253.5,759.0 1269.5,760.1 1285.5,762.0 1301.5,764.1 1317.5,769.0 1333.5,764.1 1349.5,764.1 1365.5,764.1" fill="none" stroke="#1e90ff" stroke-width="2" stroke-linejoin="round" shape-rendering="crispEdges"/>
<g font-family="Liberation Sans, sans-serif" font-size="10px" text-rendering="geometricPrecision" fill="#000" stroke="#000" stroke-width="0.25">
<text x="8.4" y="643.00" textLength="68" lengthAdjust="spacingAndGlyphs">MACD(12,26,9)</text>
<text x="77.5" y="643.00" textLength="28" lengthAdjust="spacingAndGlyphs">0.5056</text>
<text x="108.2" y="643.00" textLength="28.5" lengthAdjust="spacingAndGlyphs">0.5381</text>
<text x="8.3" y="746.00" textLength="33" lengthAdjust="spacingAndGlyphs">RSI(14)</text>
<text x="43.5" y="746.00" textLength="34" lengthAdjust="spacingAndGlyphs">66.8702</text>
<text x="1648" y="641.00" textLength="27.3" lengthAdjust="spacingAndGlyphs">0.8728</text>
<text x="1648" y="699.00" textLength="18.3" lengthAdjust="spacingAndGlyphs">0.00</text>
<text x="1648" y="728.00" textLength="30.8" lengthAdjust="spacingAndGlyphs">-0.4872</text>
<text x="1648" y="744.00" textLength="15.8" lengthAdjust="spacingAndGlyphs">100</text>
<text x="1647" y="756.00" textLength="10.8" lengthAdjust="spacingAndGlyphs">80</text>
<text x="1647" y="782.00" textLength="10.8" lengthAdjust="spacingAndGlyphs">50</text>
<text x="1647.6" y="812.00" textLength="10.3" lengthAdjust="spacingAndGlyphs">15</text>
<text x="1647.6" y="819.00" textLength="5.4" lengthAdjust="spacingAndGlyphs">0</text>
</g>
<g shape-rendering="crispEdges">
<rect x="5" y="823" width="1" height="3" fill="#000"/>
<rect x="69" y="823" width="1" height="3" fill="#000"/>
<rect x="133" y="823" width="1" height="3" fill="#000"/>
<rect x="197" y="823" width="1" height="3" fill="#000"/>
<rect x="261" y="823" width="1" height="3" fill="#000"/>
<rect x="325" y="823" width="1" height="3" fill="#000"/>
<rect x="389" y="823" width="1" height="3" fill="#000"/>
<rect x="453" y="823" width="1" height="3" fill="#000"/>
<rect x="517" y="823" width="1" height="3" fill="#000"/>
<rect x="581" y="823" width="1" height="3" fill="#000"/>
<rect x="645" y="823" width="1" height="3" fill="#000"/>
<rect x="709" y="823" width="1" height="3" fill="#000"/>
<rect x="773" y="823" width="1" height="3" fill="#000"/>
<rect x="837" y="823" width="1" height="3" fill="#000"/>
<rect x="901" y="823" width="1" height="3" fill="#000"/>
<rect x="965" y="823" width="1" height="3" fill="#000"/>
<rect x="1029" y="823" width="1" height="3" fill="#000"/>
<rect x="1093" y="823" width="1" height="3" fill="#000"/>
<rect x="1157" y="823" width="1" height="3" fill="#000"/>
<rect x="1221" y="823" width="1" height="3" fill="#000"/>
<rect x="1285" y="823" width="1" height="3" fill="#000"/>
<rect x="1349" y="823" width="1" height="3" fill="#000"/>
</g>
<g font-family="Liberation Sans, sans-serif" font-size="10px" text-rendering="geometricPrecision" fill="#000" stroke="#000" stroke-width="0.25">
<text x="4" y="835.00" textLength="53.5" lengthAdjust="spacingAndGlyphs">10 Aug 2022</text>
<text x="68" y="835.00" textLength="56" lengthAdjust="spacingAndGlyphs">11 Aug 08:00</text>
<text x="132" y="835.00" textLength="56" lengthAdjust="spacingAndGlyphs">12 Aug 00:00</text>
<text x="196" y="835.00" textLength="56" lengthAdjust="spacingAndGlyphs">12 Aug 16:00</text>
<text x="260" y="835.00" textLength="56" lengthAdjust="spacingAndGlyphs">15 Aug 08:00</text>
<text x="324" y="835.00" textLength="56" lengthAdjust="spacingAndGlyphs">16 Aug 00:00</text>
<text x="388" y="835.00" textLength="56" lengthAdjust="spacingAndGlyphs">16 Aug 16:00</text>
<text x="452" y="835.00" textLength="56" lengthAdjust="spacingAndGlyphs">17 Aug 08:00</text>
<text x="516" y="835.00" textLength="56" lengthAdjust="spacingAndGlyphs">18 Aug 00:00</text>
<text x="580" y="835.00" textLength="56" lengthAdjust="spacingAndGlyphs">18 Aug 16:00</text>
<text x="644" y="835.00" textLength="56" lengthAdjust="spacingAndGlyphs">19 Aug 08:00</text>
<text x="708" y="835.00" textLength="56" lengthAdjust="spacingAndGlyphs">22 Aug 00:00</text>
<text x="772" y="835.00" textLength="56" lengthAdjust="spacingAndGlyphs">22 Aug 16:00</text>
<text x="836" y="835.00" textLength="56" lengthAdjust="spacingAndGlyphs">23 Aug 08:00</text>
<text x="900" y="835.00" textLength="56" lengthAdjust="spacingAndGlyphs">24 Aug 00:00</text>
<text x="964" y="835.00" textLength="56" lengthAdjust="spacingAndGlyphs">24 Aug 16:00</text>
<text x="1028" y="835.00" textLength="56" lengthAdjust="spacingAndGlyphs">25 Aug 08:00</text>
<text x="1092" y="835.00" textLength="56" lengthAdjust="spacingAndGlyphs">26 Aug 00:00</text>
<text x="1156" y="835.00" textLength="56" lengthAdjust="spacingAndGlyphs">26 Aug 16:00</text>
<text x="1220" y="835.00" textLength="56" lengthAdjust="spacingAndGlyphs">29 Aug 08:00</text>
<text x="1284" y="835.00" textLength="56" lengthAdjust="spacingAndGlyphs">30 Aug 00:00</text>
<text x="1348" y="835.00" textLength="56" lengthAdjust="spacingAndGlyphs">30 Aug 16:00</text>
</g>
<g id="toolbar">
<g shape-rendering="crispEdges">
<rect x="0" y="0" width="1692" height="21" fill="#f0f0f0"/>
<rect x="0" y="21" width="1692" height="1" fill="#fafafa"/>
<rect x="0" y="22" width="1691" height="1" fill="#a0a0a0"/>
<rect x="1" y="23" width="1689" height="1" fill="#696969"/><rect x="0" y="23" width="1" height="1" fill="#a0a0a0"/>
<rect x="280" y="0" width="24" height="20" fill="url(#hatch)"/><rect x="280" y="20" width="25" height="1" fill="#fcfcfc"/><rect x="304" y="0" width="1" height="20" fill="#fcfcfc"/>
<rect x="432" y="0" width="24" height="20" fill="url(#hatch)"/><rect x="432" y="20" width="25" height="1" fill="#fcfcfc"/><rect x="456" y="0" width="1" height="20" fill="#fcfcfc"/>
<rect x="460" y="0" width="24" height="20" fill="url(#hatch)"/><rect x="460" y="20" width="25" height="1" fill="#fcfcfc"/><rect x="484" y="0" width="1" height="20" fill="#fcfcfc"/>
<rect x="620" y="0" width="24" height="20" fill="url(#hatch)"/><rect x="620" y="20" width="25" height="1" fill="#fcfcfc"/><rect x="644" y="0" width="1" height="20" fill="#fcfcfc"/>
<rect x="1066" y="0" width="24" height="20" fill="url(#hatch)"/><rect x="1066" y="20" width="25" height="1" fill="#fcfcfc"/><rect x="1090" y="0" width="1" height="20" fill="#fcfcfc"/>
<rect x="5" y="0" width="1" height="20" fill="#a0a0a0"/>
<rect x="279" y="0" width="1" height="20" fill="#a0a0a0"/>
<rect x="336" y="0" width="1" height="20" fill="#a0a0a0"/>
<rect x="426" y="0" width="1" height="20" fill="#a0a0a0"/>
<rect x="431" y="0" width="1" height="20" fill="#a0a0a0"/>
<rect x="459" y="0" width="1" height="20" fill="#a0a0a0"/>
<rect x="488" y="0" width="1" height="20" fill="#a0a0a0"/>
<rect x="619" y="0" width="1" height="20" fill="#a0a0a0"/>
<rect x="676" y="0" width="1" height="20" fill="#a0a0a0"/>
<rect x="1065" y="0" width="1" height="20" fill="#a0a0a0"/>
<rect x="1176" y="0" width="1" height="20" fill="#a0a0a0"/>
<rect x="241" y="0" width="1" height="22" fill="#a0a0a0"/><rect x="242" y="0" width="1" height="22" fill="#fcfcfc"/>
<rect x="609" y="0" width="1" height="22" fill="#a0a0a0"/><rect x="610" y="0" width="1" height="22" fill="#fcfcfc"/>
<rect x="915" y="0" width="1" height="22" fill="#a0a0a0"/><rect x="916" y="0" width="1" height="22" fill="#fcfcfc"/>
<rect x="245" y="0" width="3" height="1" fill="#a4a4a4"/>
<rect x="245" y="2" width="3" height="1" fill="#a4a4a4"/>
<rect x="245" y="4" width="3" height="1" fill="#a4a4a4"/>
<rect x="245" y="6" width="3" height="1" fill="#a4a4a4"/>
<rect x="245" y="8" width="3" height="1" fill="#a4a4a4"/>
<rect x="245" y="10" width="3" height="1" fill="#a4a4a4"/>
<rect x="245" y="12" width="3" height="1" fill="#a4a4a4"/>
<rect x="245" y="14" width="3" height="1" fill="#a4a4a4"/>
<rect x="245" y="16" width="3" height="1" fill="#a4a4a4"/>
<rect x="245" y="18" width="3" height="1" fill="#a4a4a4"/>
<rect x="613" y="0" width="3" height="1" fill="#a4a4a4"/>
<rect x="613" y="2" width="3" height="1" fill="#a4a4a4"/>
<rect x="613" y="4" width="3" height="1" fill="#a4a4a4"/>
<rect x="613" y="6" width="3" height="1" fill="#a4a4a4"/>
<rect x="613" y="8" width="3" height="1" fill="#a4a4a4"/>
<rect x="613" y="10" width="3" height="1" fill="#a4a4a4"/>
<rect x="613" y="12" width="3" height="1" fill="#a4a4a4"/>
<rect x="613" y="14" width="3" height="1" fill="#a4a4a4"/>
<rect x="613" y="16" width="3" height="1" fill="#a4a4a4"/>
<rect x="613" y="18" width="3" height="1" fill="#a4a4a4"/>
<rect x="919" y="0" width="3" height="1" fill="#a4a4a4"/>
<rect x="919" y="2" width="3" height="1" fill="#a4a4a4"/>
<rect x="919" y="4" width="3" height="1" fill="#a4a4a4"/>
<rect x="919" y="6" width="3" height="1" fill="#a4a4a4"/>
<rect x="919" y="8" width="3" height="1" fill="#a4a4a4"/>
<rect x="919" y="10" width="3" height="1" fill="#a4a4a4"/>
<rect x="919" y="12" width="3" height="1" fill="#a4a4a4"/>
<rect x="919" y="14" width="3" height="1" fill="#a4a4a4"/>
<rect x="919" y="16" width="3" height="1" fill="#a4a4a4"/>
<rect x="919" y="18" width="3" height="1" fill="#a4a4a4"/>
</g>
<path d="M16.5 2.5h6.8l3.2 3.2v9.8h-10q-1 0 -1 -1v-11q0-1 1-1z" fill="#fff" stroke="#6a6a6a"/>
<path d="M23.3 2.6v3.1h3.1z" fill="#787878"/><rect x="24" y="4" width="1" height="1" fill="#fff"/>
<rect x="17.2" y="4.2" width="2.7" height="1.4" fill="#8c8c8c"/>
<g stroke="#8c8c8c" stroke-width="0.9"><path d="M17.2 8.5h6M17.2 10.5h4.6M17.2 12.5h2"/></g>
<g shape-rendering="crispEdges"><path d="M23,8h4v4h4v4h-4v4h-4v-4h-4v-4h4z" fill="#0a8a12"/><path d="M24,9h2v4h4v2h-4v4h-2v-4h-4v-2h4z" fill="url(#gplus)"/><path d="M24,9h1v4h-1z M20,13h4v1h-4z" fill="#a0ffb0" opacity="0.55"/></g>
<text x="34" y="13.2" font-family="Liberation Sans, 'Noto Sans CJK SC', sans-serif" font-size="11.4px" letter-spacing="0.6" fill="#000" stroke="#000" stroke-width="0.3">新订单</text>
<path d="M96.6 9 L98 11.5 L90.6 17.9 L89.4 16.2z" fill="#dcc888" stroke="#9c6408" stroke-width="0.8"/>
<path d="M88.1 3.1 L96.6 9 L89.5 16.3 L82 11.6 Q85.6 8.4 86.6 4.2 Q87.2 3 88.1 3.1z" fill="url(#ggold)" stroke="#a86c08" stroke-width="0.9"/>
<path d="M82.4 12 L89.8 17.2" fill="none" stroke="#8c5a06" stroke-width="1.5"/>
<path d="M83.6 11.2 L90.2 15.4" fill="none" stroke="#fff0a0" stroke-width="0.9" opacity="0.75"/>
<path d="M88 4.6 L95.4 9.4" fill="none" stroke="#fff2a0" stroke-width="0.8" opacity="0.6"/>
<path d="M112 2.6 L118.6 2 L123 3.6 L123 11.6 L115.6 11.6 L112 10z" fill="#1c9cf8"/>
<path d="M112 2.6 L115.6 5.2 L115.6 11.6 L112 10z" fill="#30b0ff"/>
<path d="M112 2.6 L118.6 2 L123 3.6 L115.6 5.2z" fill="#58c0ff"/>
<path d="M112.6 3.1 L115.6 5.3 V11" fill="none" stroke="#e8f8ff" stroke-width="0.8"/>
<rect x="117" y="6.5" width="4.6" height="1.2" fill="#e8f6ff"/>
<g fill="#4c6cac" stroke="#4c6cac" stroke-width="1.5"><rect x="110.4" y="13.3" width="15.2" height="4.4" rx="2.2"/><circle cx="113.2" cy="14.6" r="2.3"/><circle cx="118.3" cy="13.2" r="3"/><circle cx="122.8" cy="14.4" r="2.4"/></g><g fill="url(#gcloud)"><rect x="110.4" y="13.3" width="15.2" height="4.4" rx="2.2"/><circle cx="113.2" cy="14.6" r="2.3"/><circle cx="118.3" cy="13.2" r="3"/><circle cx="122.8" cy="14.4" r="2.4"/></g>
<circle cx="146.2" cy="9.7" r="7.7" fill="#e6ecf2" stroke="#b4c4dc" stroke-width="0.8"/>
<path d="M146.4 9.7 L151.8 4.2 A7.7 7.7 0 0 1 146.4 17.4z" fill="#8cc890" opacity="0.6"/>
<path d="M146.4 9.7 L146.4 2 A7.7 7.7 0 0 1 151.8 4.2z" fill="#b8d8c0" opacity="0.5"/>
<g fill="none" stroke="#3866d0" stroke-width="1"><path d="M146.2 2 A7.7 7.7 0 0 0 146.2 17.4" opacity="0.45"/><path d="M146.2 5.1 A4.6 4.6 0 0 0 146.2 14.3" opacity="0.85"/></g>
<g fill="none" stroke="#80a8a0" stroke-width="0.9"><path d="M146.2 5.1 A4.6 4.6 0 0 1 146.2 14.3" opacity="0.7"/></g>
<circle cx="146" cy="9.4" r="1.9" fill="#2850c8"/>
<path d="M146.7 10 V17.4" stroke="#18a828" stroke-width="1.5" fill="none"/>
<path d="M165.2 9.4 L180.8 8.4 L178.4 14 L172.6 18 L171.4 17.6z" fill="url(#gface)" stroke="#c8a010" stroke-width="0.8"/>
<path d="M164.9 7.4 Q165.4 5.6 169 6.2 Q173 7.2 177 6 Q180.4 5 181.1 6.2 Q181.4 8 177.6 8.9 Q173 9.9 168.4 9.3 Q164.6 8.8 164.9 7.4z" fill="#4ca8d8" stroke="#2c88b8" stroke-width="0.8"/>
<path d="M169.1 6.6 Q169.4 2 173 1.9 Q176.4 2 176.8 6.2 Q173 7.6 169.1 6.6z" fill="#74bcea" stroke="#3490c4" stroke-width="0.7"/>
<circle cx="177.4" cy="13.8" r="4.2" fill="url(#gstop)" stroke="#b01c08" stroke-width="0.7"/>
<rect x="176.1" y="12.3" width="2.8" height="3.1" fill="#fff"/>
<text x="185.9" y="13.4" font-family="Liberation Sans, 'Noto Sans CJK SC', sans-serif" font-size="11.4px" letter-spacing="0.45" fill="#000" stroke="#000" stroke-width="0.3">自动交易</text>
<g fill="#545454" shape-rendering="crispEdges"><rect x="259" y="5" width="1" height="13"/><rect x="257" y="15" width="12" height="1"/></g><path d="M259.5 3.7 l1.8 2.7 h-3.6z M270.8 15.5 l-2.7 -1.8 v3.6z" fill="#545454"/>
<g fill="#0a8a0a" shape-rendering="crispEdges"><rect x="265" y="5" width="1" height="9"/><rect x="266" y="6" width="2" height="1"/><rect x="263" y="12" width="2" height="1"/></g>
<g fill="#545454" shape-rendering="crispEdges"><rect x="287" y="5" width="1" height="13"/><rect x="285" y="15" width="12" height="1"/></g><path d="M287.5 3.7 l1.8 2.7 h-3.6z M298.8 15.5 l-2.7 -1.8 v3.6z" fill="#545454"/>
<g shape-rendering="crispEdges"><rect x="293" y="2" width="1" height="12" fill="#0a8a0a"/><rect x="291" y="4" width="5" height="8" fill="#0a8a0a"/><rect x="292" y="5" width="3" height="6" fill="#48e860"/></g>
<g fill="#545454" shape-rendering="crispEdges"><rect x="315" y="5" width="1" height="13"/><rect x="313" y="15" width="12" height="1"/></g><path d="M315.5 3.7 l1.8 2.7 h-3.6z M326.8 15.5 l-2.7 -1.8 v3.6z" fill="#545454"/>
<path d="M314.3 12.8 C317 10.6 318.4 7.2 320.3 7.2 C322.3 7.2 323.4 10 325.8 10.9" fill="none" stroke="#249824" stroke-width="1.15"/>
<path d="M354.8 11.9 L359.9 16.7" stroke="#a87c08" stroke-width="3.4" stroke-linecap="butt" fill="none"/><path d="M354.8 11.9 L359.6 16.4" stroke="#f0d040" stroke-width="2" stroke-linecap="butt" fill="none"/><circle cx="351" cy="8" r="5.6" fill="#d6f0ff" stroke="#3c88c8" stroke-width="1.15"/><path d="M347.6 8h6.8" stroke="#4690b8" stroke-width="1.8" fill="none"/><path d="M351 4.6v6.8" stroke="#4690b8" stroke-width="1.8" fill="none"/>
<path d="M382.8 11.9 L387.9 16.7" stroke="#a87c08" stroke-width="3.4" stroke-linecap="butt" fill="none"/><path d="M382.8 11.9 L387.6 16.4" stroke="#f0d040" stroke-width="2" stroke-linecap="butt" fill="none"/><circle cx="379" cy="8" r="5.6" fill="#d6f0ff" stroke="#3c88c8" stroke-width="1.15"/><path d="M375.6 8h6.8" stroke="#4690b8" stroke-width="1.8" fill="none"/>
<rect x="401" y="2" width="8" height="8" fill="#34a424"/><rect x="402.4" y="5.4" width="5.2" height="3.8" fill="#fff"/><rect x="403.4" y="6.4" width="3.2" height="1" fill="#34a424" opacity="0.45"/><rect x="402" y="3" width="1" height="1" fill="#fff" opacity="0.8"/>
<rect x="409" y="2" width="8" height="8" fill="#2458d8"/><rect x="410.4" y="5.4" width="5.2" height="3.8" fill="#fff"/><rect x="411.4" y="6.4" width="3.2" height="1" fill="#2458d8" opacity="0.45"/><rect x="410" y="3" width="1" height="1" fill="#fff" opacity="0.8"/>
<rect x="401" y="10" width="8" height="8" fill="#2458d8"/><rect x="402.4" y="13.4" width="5.2" height="3.8" fill="#fff"/><rect x="403.4" y="14.4" width="3.2" height="1" fill="#2458d8" opacity="0.45"/><rect x="402" y="11" width="1" height="1" fill="#fff" opacity="0.8"/>
<rect x="409" y="10" width="8" height="8" fill="#34a424"/><rect x="410.4" y="13.4" width="5.2" height="3.8" fill="#fff"/><rect x="411.4" y="14.4" width="3.2" height="1" fill="#34a424" opacity="0.45"/><rect x="410" y="11" width="1" height="1" fill="#fff" opacity="0.8"/>
<g fill="#545454" shape-rendering="crispEdges"><rect x="439" y="5" width="1" height="13"/><rect x="437" y="15" width="12" height="1"/></g><path d="M439.5 3.7 l1.8 2.7 h-3.6z M450.8 15.5 l-2.7 -1.8 v3.6z" fill="#545454"/>
<path d="M444 6 L444 13 L448.2 9.5z" fill="#58e868" stroke="#12a022" stroke-width="0.9"/>
<g fill="#545454" shape-rendering="crispEdges"><rect x="467" y="5" width="1" height="13"/><rect x="465" y="15" width="12" height="1"/></g><path d="M467.5 3.7 l1.8 2.7 h-3.6z M478.8 15.5 l-2.7 -1.8 v3.6z" fill="#545454"/>
<rect x="473" y="4" width="1.4" height="10" fill="#1878a8"/>
<path d="M474.6 9.5 L477.4 7 L477 9 L479.2 9 L479.2 10 L477 10 L477.4 12z" fill="#d84800"/>
<path d="M499.8 2.8h6.3l3.2 3.2v9.6h-9.5q-1 0 -1 -1v-10.8q0-1 1-1z" fill="#fff" stroke="#787878"/>
<path d="M506.1 2.9v3.1h3.1z" fill="#909090"/><rect x="507" y="4.2" width="1" height="1" fill="#fff"/>
<text x="500.2" y="12.2" font-family="Liberation Serif, serif" font-style="italic" font-size="10.5px" fill="#3c3c30" stroke="#3c3c30" stroke-width="0.25">f</text>
<g shape-rendering="crispEdges"><path d="M506,8h4v4h4v4h-4v4h-4v-4h-4v-4h4z" fill="#0a8a12"/><path d="M507,9h2v4h4v2h-4v4h-2v-4h-4v-2h4z" fill="url(#gplus)"/><path d="M507,9h1v4h-1z M503,13h4v1h-4z" fill="#a0ffb0" opacity="0.55"/></g>
<path d="M519.6 8.9 h6 l-3 3.3z" fill="#000"/>
<path d="M558.5 8.9 h6 l-3 3.3z" fill="#000"/>
<path d="M597.5 8.9 h6 l-3 3.3z" fill="#000"/>
<path d="M903.5 8.9 h6 l-3 3.3z" fill="#000"/>
<circle cx="544" cy="9.8" r="7.9" fill="url(#gclock)"/>
<circle cx="544" cy="9.8" r="5.3" fill="#fdfdfd"/>
<path d="M543.6 5.8 V10 L547 10.6" fill="none" stroke="#202020" stroke-width="1.2"/>
<g fill="#7890a8"><circle cx="544" cy="5.5" r=".5"/><circle cx="544" cy="14.1" r=".5"/><circle cx="539.7" cy="9.8" r=".5"/><circle cx="548.3" cy="9.8" r=".5"/><circle cx="541" cy="6.8" r=".4"/><circle cx="547" cy="6.8" r=".4"/><circle cx="541" cy="12.8" r=".4"/><circle cx="547" cy="12.8" r=".4"/></g>
<rect x="575.5" y="3.5" width="15" height="13" fill="#fff" stroke="#3470c4"/>
<rect x="576" y="4" width="14" height="2" fill="#5c98e4"/>
<rect x="576" y="10.2" width="14" height="1.2" fill="#3470c4"/>
<path d="M578 9.4 h1.6 l1.4 -1.6 h1.6 l1.2 1 h1.6 l1.2 -1.2 h1.4" fill="none" stroke="#a02010" stroke-width="1.2"/>
<path d="M578.6 14.4 h1.4 l1.2 -1 1.4 1 h1 l1.6 -2 h.8 l1.6 2" fill="none" stroke="#109020" stroke-width="1.2"/>
<path d="M627.2 3 L627.2 14 L629.9 11.7 L632.1 16.9 L634 16.1 L631.8 11 L635 10.7z" fill="#484848"/>
<g fill="#505050" shape-rendering="crispEdges"><rect x="652" y="10" width="15" height="1"/><rect x="659" y="3" width="1" height="15"/><rect x="659" y="10" width="1" height="1" fill="#c8c8c8"/></g>
<g fill="#505050" shape-rendering="crispEdges"><rect x="693" y="4" width="1" height="13"/><rect x="716" y="10" width="12" height="1"/></g>
<path d="M743.7 16.8 L755.9 4.7" stroke="#505050" stroke-width="1.1" fill="none"/>
<g stroke="#585858" stroke-width="0.8" fill="none"><path d="M769.5 11.6 L777.9 3.8"/><path d="M774.9 16.9 L784.2 8.3"/></g>
<g stroke="#404040" stroke-width="1.3" fill="none" stroke-linejoin="round"><path d="M772.3 16.9 V9.6 M775.4 13.6 V8.3 M778.6 13.2 V6.3 M781.5 8.9 V2"/><path d="M770.6 15.6 L772.3 13.4 L775.4 11.2 L778.6 9.2 L781.5 5.6 L783.6 7.6" stroke-width="1"/></g>
<text x="780.7" y="19" font-family="Liberation Sans, sans-serif" font-weight="bold" font-size="7px" fill="#404040">E</text>
<g stroke="#484848" stroke-width="1" stroke-dasharray="1 1" fill="none" shape-rendering="crispEdges"><path d="M799 3.5h13M799 6.5h13M799 10.5h13M799 14.5h9"/></g>
<text x="808.7" y="19" font-family="Liberation Sans, sans-serif" font-weight="bold" font-size="7px" fill="#404040">F</text>
<text x="830" y="14.9" font-family="Liberation Sans, sans-serif" font-size="12.6px" fill="#505050" stroke="#505050" stroke-width="0.3" textLength="7.3" lengthAdjust="spacingAndGlyphs">A</text>
<g stroke="#505050" stroke-width="1" stroke-dasharray="1 1" fill="none" shape-rendering="crispEdges"><path d="M856 4.5h12M856 16.5h12M856.5 4v13M867.5 4v13"/></g>
<rect x="855" y="3" width="2" height="2" fill="#505050"/>
<path d="M858 7.7 H866 M862 7.7 V14.8" stroke="#505050" stroke-width="1.4" fill="none"/>
<path d="M886.5 3.7 L890.2 7.7 L888 7.7 L886.5 8.9 L885 7.7 L882.8 7.7z" fill="#505050"/>
<path d="M893.7 17.2 L890 13.2 L892.2 13.2 L893.7 12 L895.2 13.2 L897.4 13.2z" fill="#505050"/>
<path d="M885.2 11.8 L887.6 13.8 L891.8 8.6" stroke="#505050" stroke-width="1.3" fill="none"/>
<g font-family="Liberation Sans, sans-serif" font-size="9.8px" text-rendering="geometricPrecision" fill="#383838" stroke="#383838" stroke-width="0.15">
<text x="930.2" y="14">M1</text>
<text x="958.2" y="14">M5</text>
<text x="984.4" y="14">M15</text>
<text x="1012.6" y="14">M30</text>
<text x="1043.2" y="14">H1</text>
<text x="1070" y="14">H4</text>
<text x="1099.3" y="14">D1</text>
<text x="1126.8" y="14">W1</text>
<text x="1153.2" y="14">MN</text>
</g>
<path d="M1643.2 10.6 L1639 14.9" stroke="#2454d0" stroke-width="2.6" fill="none"/>
<circle cx="1646.6" cy="7.6" r="3.8" fill="#fbfbff" stroke="#2454d0" stroke-width="1.3"/>
<path d="M1666 16 L1666.4 18.8 L1669 16.6z" fill="#b0b0b0"/>
<ellipse cx="1668.8" cy="12.4" rx="5.4" ry="4.6" fill="#e8e8f0" stroke="#a8a8a8" stroke-width="0.9"/>
<circle cx="1677.5" cy="7.3" r="8.3" fill="url(#gbadge)"/>
<text x="1673.2" y="12.1" font-family="DejaVu Sans, sans-serif" font-size="12px" fill="#fff">1</text>
</g>
</svg>
</body></html>
